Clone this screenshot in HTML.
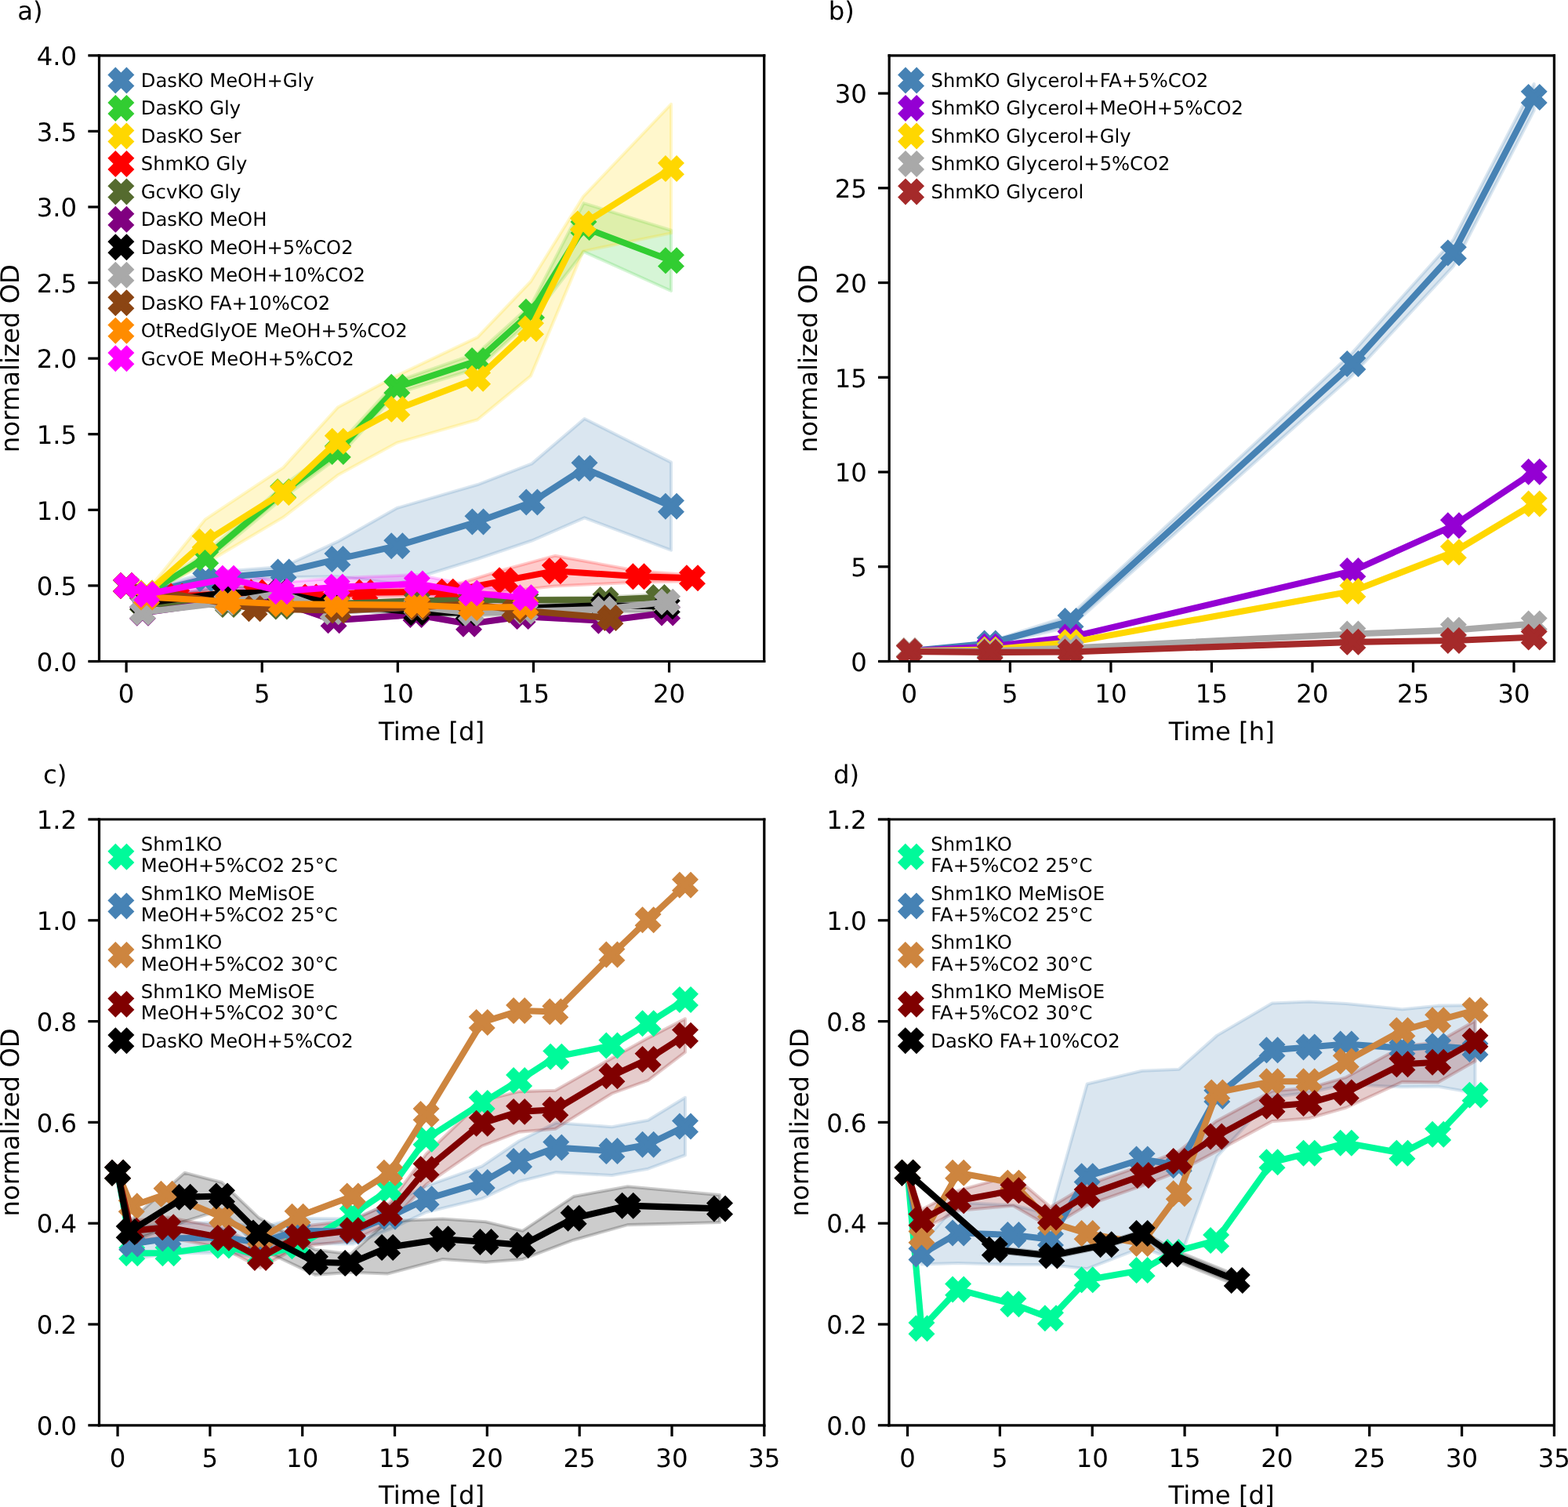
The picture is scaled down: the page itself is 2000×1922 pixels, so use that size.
<!DOCTYPE html>
<html><head><meta charset="utf-8"><title>Figure</title><style>html,body{margin:0;padding:0;background:#fff;}svg{display:block;}text{font-family:"DejaVu Sans","Liberation Sans",sans-serif;text-rendering:geometricPrecision;}</style></head><body>
<svg width="2000px" height="1922px" viewBox="0 0 495.049505 475.742574" version="1.1">
 
 <defs>
  <style type="text/css">*{stroke-linejoin: round; stroke-linecap: butt}</style>
 </defs>
 <g id="figure_1">
  <g id="patch_1">
   <path d="M 0 475.742574 
L 495.049505 475.742574 
L 495.049505 0 
L 0 0 
z
" style="fill: #ffffff"/>
  </g>
  <g id="axes_1">
   <g id="patch_2">
    <path d="M 31.311881 208.787129 
L 241.262376 208.787129 
L 241.262376 17.524752 
L 31.311881 17.524752 
z
" style="fill: #ffffff"/>
   </g>
   <g id="FillBetweenPolyCollection_1">
    <defs>
     <path id="m2e05fa8b4c" d="M 39.881289 -290.863243 
L 39.881289 -290.863243 
L 46.308345 -287.516151 
L 64.90396 -291.102321 
L 89.498161 -293.4931 
L 106.551283 -293.732178 
L 125.318287 -291.43703 
L 150.855122 -299.326603 
L 167.908244 -305.064474 
L 184.532896 -312.284629 
L 211.869307 -302.052092 
L 211.869307 -329.785136 
L 211.869307 -329.785136 
L 184.532896 -343.556027 
L 167.908244 -329.354796 
L 150.855122 -322.756244 
L 125.318287 -315.344827 
L 106.551283 -304.729765 
L 89.498161 -296.840192 
L 64.90396 -294.927568 
L 46.308345 -289.428775 
L 39.881289 -290.863243 
z
" style="stroke: #4682b4; stroke-opacity: 0.2"/>
    </defs>
    <g clip-path="url(#pe336038c36)">
     <use href="#m2e05fa8b4c" x="0" y="475.742574" style="fill: #4682b4; fill-opacity: 0.2; stroke: #4682b4; stroke-opacity: 0.2"/>
    </g>
   </g>
   <g id="FillBetweenPolyCollection_2">
    <defs>
     <path id="mc06abea9f8" d="M 39.881289 -290.863243 
L 39.881289 -290.863243 
L 46.308345 -287.85086 
L 64.90396 -298.27466 
L 89.412467 -318.596287 
L 106.636977 -331.26742 
L 125.318287 -351.589047 
L 150.769428 -359.47862 
L 167.82255 -374.875241 
L 184.275813 -396.296627 
L 211.869307 -383.912389 
L 211.869307 -403.038626 
L 211.869307 -403.038626 
L 184.275813 -411.597618 
L 167.82255 -379.656801 
L 150.769428 -364.260179 
L 125.318287 -355.414295 
L 106.636977 -335.092667 
L 89.412467 -322.421535 
L 64.90396 -301.143595 
L 46.308345 -288.807172 
L 39.881289 -290.863243 
z
" style="stroke: #32cd32; stroke-opacity: 0.2"/>
    </defs>
    <g clip-path="url(#pe336038c36)">
     <use href="#mc06abea9f8" x="0" y="475.742574" style="fill: #32cd32; fill-opacity: 0.2; stroke: #32cd32; stroke-opacity: 0.2"/>
    </g>
   </g>
   <g id="FillBetweenPolyCollection_3">
    <defs>
     <path id="mdfe5f4eef9" d="M 39.881289 -290.863243 
L 39.881289 -290.863243 
L 46.308345 -287.994307 
L 64.732572 -297.748688 
L 89.412467 -312.428075 
L 106.636977 -325.720811 
L 125.318287 -335.953348 
L 150.769428 -343.269134 
L 167.565468 -357.040025 
L 184.104425 -396.440074 
L 211.869307 -402.13013 
L 211.869307 -442.869016 
L 211.869307 -442.869016 
L 184.104425 -413.653688 
L 167.565468 -386.876955 
L 150.769428 -369.280817 
L 125.318287 -357.183472 
L 106.636977 -347.142197 
L 89.412467 -328.11159 
L 64.732572 -311.710842 
L 46.308345 -288.950619 
L 39.881289 -290.863243 
z
" style="stroke: #ffd700; stroke-opacity: 0.2"/>
    </defs>
    <g clip-path="url(#pe336038c36)">
     <use href="#mdfe5f4eef9" x="0" y="475.742574" style="fill: #ffd700; fill-opacity: 0.2; stroke: #ffd700; stroke-opacity: 0.2"/>
    </g>
   </g>
   <g id="FillBetweenPolyCollection_4">
    <defs>
     <path id="m997eaf4f09" d="M 39.881289 -290.863243 
L 39.881289 -290.863243 
L 46.308345 -287.516151 
L 55.734694 -286.559839 
L 81.014447 -287.755229 
L 98.067569 -286.320761 
L 115.206385 -287.277073 
L 141.257385 -287.516151 
L 159.42453 -288.998434 
L 175.192241 -290.719796 
L 201.586017 -291.963001 
L 218.553445 -292.29771 
L 218.553445 -294.210334 
L 218.553445 -294.210334 
L 201.586017 -295.501355 
L 175.192241 -300.282915 
L 159.42453 -295.979511 
L 141.257385 -290.385087 
L 115.206385 -290.146009 
L 98.067569 -288.233385 
L 81.014447 -289.667853 
L 55.734694 -288.472463 
L 46.308345 -288.472463 
L 39.881289 -290.863243 
z
" style="stroke: #ff0000; stroke-opacity: 0.2"/>
    </defs>
    <g clip-path="url(#pe336038c36)">
     <use href="#m997eaf4f09" x="0" y="475.742574" style="fill: #ff0000; fill-opacity: 0.2; stroke: #ff0000; stroke-opacity: 0.2"/>
    </g>
   </g>
   <g id="FillBetweenPolyCollection_5">
    <defs>
     <path id="m07bd4433d9" d="M 39.881289 -290.863243 
L 39.881289 -290.863243 
L 45.022934 -284.647215 
L 72.016569 -284.408137 
L 88.812609 -283.786535 
L 106.379895 -284.647215 
L 131.659648 -285.603527 
L 148.798464 -285.842605 
L 165.93728 -285.842605 
L 191.217034 -285.412265 
L 208.013073 -286.177314 
L 208.013073 -288.089938 
L 208.013073 -288.089938 
L 191.217034 -287.324889 
L 165.93728 -286.798917 
L 148.798464 -286.798917 
L 131.659648 -286.559839 
L 106.379895 -285.603527 
L 88.812609 -284.742847 
L 72.016569 -285.364449 
L 45.022934 -285.603527 
L 39.881289 -290.863243 
z
" style="stroke: #556b2f; stroke-opacity: 0.2"/>
    </defs>
    <g clip-path="url(#pe336038c36)">
     <use href="#m07bd4433d9" x="0" y="475.742574" style="fill: #556b2f; fill-opacity: 0.2; stroke: #556b2f; stroke-opacity: 0.2"/>
    </g>
   </g>
   <g id="FillBetweenPolyCollection_6">
    <defs>
     <path id="mba412e9eae" d="M 39.881289 -290.863243 
L 39.881289 -290.863243 
L 45.022934 -281.77828 
L 72.016569 -285.603527 
L 88.812609 -285.125371 
L 105.351566 -279.435316 
L 131.316872 -281.204493 
L 148.027218 -278.287741 
L 164.994645 -280.678521 
L 190.702869 -279.291869 
L 210.66959 -281.826095 
L 210.66959 -282.782407 
L 210.66959 -282.782407 
L 190.702869 -280.248181 
L 164.994645 -281.634833 
L 148.027218 -279.244053 
L 131.316872 -282.160804 
L 105.351566 -280.391627 
L 88.812609 -286.081683 
L 72.016569 -286.559839 
L 45.022934 -282.734592 
L 39.881289 -290.863243 
z
" style="stroke: #800080; stroke-opacity: 0.2"/>
    </defs>
    <g clip-path="url(#pe336038c36)">
     <use href="#mba412e9eae" x="0" y="475.742574" style="fill: #800080; fill-opacity: 0.2; stroke: #800080; stroke-opacity: 0.2"/>
    </g>
   </g>
   <g id="FillBetweenPolyCollection_7">
    <defs>
     <path id="m1affc12d87" d="M 39.881289 -290.863243 
L 39.881289 -290.863243 
L 45.194322 -284.312506 
L 70.98824 -286.272946 
L 88.21275 -287.372704 
L 105.351566 -283.738719 
L 131.48826 -281.204493 
L 147.941524 -281.443571 
L 164.994645 -281.634833 
L 190.617175 -282.686776 
L 210.583896 -282.399882 
L 210.583896 -286.22513 
L 210.583896 -286.22513 
L 190.617175 -286.512024 
L 164.994645 -285.938236 
L 147.941524 -283.164932 
L 131.48826 -283.595272 
L 105.351566 -286.607655 
L 88.21275 -289.954746 
L 70.98824 -290.863243 
L 45.194322 -286.22513 
L 39.881289 -290.863243 
z
" style="stroke: #000000; stroke-opacity: 0.2"/>
    </defs>
    <g clip-path="url(#pe336038c36)">
     <use href="#m1affc12d87" x="0" y="475.742574" style="fill-opacity: 0.2; stroke: #000000; stroke-opacity: 0.2"/>
    </g>
   </g>
   <g id="FillBetweenPolyCollection_8">
    <defs>
     <path id="mc00c0c0029" d="M 39.881289 -290.863243 
L 39.881289 -290.863243 
L 45.022934 -281.921726 
L 71.588099 -285.125371 
L 88.812609 -287.994307 
L 105.094484 -282.160804 
L 131.573954 -283.690903 
L 148.71277 -281.77828 
L 165.851586 -282.256436 
L 190.702869 -282.97367 
L 210.66959 -285.221002 
L 210.66959 -286.177314 
L 210.66959 -286.177314 
L 190.702869 -283.929981 
L 165.851586 -283.212748 
L 148.71277 -282.734592 
L 131.573954 -284.647215 
L 105.094484 -283.117116 
L 88.812609 -288.950619 
L 71.588099 -286.081683 
L 45.022934 -282.878038 
L 39.881289 -290.863243 
z
" style="stroke: #a9a9a9; stroke-opacity: 0.2"/>
    </defs>
    <g clip-path="url(#pe336038c36)">
     <use href="#mc00c0c0029" x="0" y="475.742574" style="fill: #a9a9a9; fill-opacity: 0.2; stroke: #a9a9a9; stroke-opacity: 0.2"/>
    </g>
   </g>
   <g id="FillBetweenPolyCollection_9">
    <defs>
     <path id="m20544c23c8" d="M 39.881289 -290.863243 
L 39.881289 -290.863243 
L 80.328895 -283.356194 
L 106.722671 -282.782407 
L 131.916731 -283.83435 
L 148.627076 -284.886293 
L 162.509517 -282.686776 
L 192.673833 -280.200365 
L 192.673833 -281.156677 
L 192.673833 -281.156677 
L 162.509517 -283.643088 
L 148.627076 -285.364449 
L 131.916731 -284.312506 
L 106.722671 -283.260563 
L 80.328895 -283.83435 
L 39.881289 -290.863243 
z
" style="stroke: #8b4513; stroke-opacity: 0.2"/>
    </defs>
    <g clip-path="url(#pe336038c36)">
     <use href="#m20544c23c8" x="0" y="475.742574" style="fill: #8b4513; fill-opacity: 0.2; stroke: #8b4513; stroke-opacity: 0.2"/>
    </g>
   </g>
   <g id="FillBetweenPolyCollection_10">
    <defs>
     <path id="mba75126469" d="M 39.881289 -290.863243 
L 39.881289 -290.863243 
L 46.308345 -286.798917 
L 72.016569 -285.364449 
L 88.812609 -284.5994 
L 106.294201 -284.455953 
L 131.659648 -284.216875 
L 148.798464 -283.451825 
L 165.93728 -283.738719 
L 165.93728 -284.695031 
L 165.93728 -284.695031 
L 148.798464 -284.408137 
L 131.659648 -285.173187 
L 106.294201 -285.412265 
L 88.812609 -285.555712 
L 72.016569 -286.320761 
L 46.308345 -287.755229 
L 39.881289 -290.863243 
z
" style="stroke: #ff8c00; stroke-opacity: 0.2"/>
    </defs>
    <g clip-path="url(#pe336038c36)">
     <use href="#mba75126469" x="0" y="475.742574" style="fill: #ff8c00; fill-opacity: 0.2; stroke: #ff8c00; stroke-opacity: 0.2"/>
    </g>
   </g>
   <g id="FillBetweenPolyCollection_11">
    <defs>
     <path id="mbb0b1f4c60" d="M 39.881289 -290.863243 
L 39.881289 -290.863243 
L 46.308345 -287.181442 
L 72.016569 -290.767611 
L 88.812609 -286.177314 
L 106.379895 -287.516151 
L 131.659648 -288.568094 
L 148.798464 -286.129499 
L 165.93728 -285.125371 
L 165.93728 -288.950619 
L 165.93728 -288.950619 
L 148.798464 -290.911058 
L 131.659648 -294.305965 
L 106.379895 -293.254022 
L 88.812609 -291.915186 
L 72.016569 -295.549171 
L 46.308345 -289.094066 
L 39.881289 -290.863243 
z
" style="stroke: #ff00ff; stroke-opacity: 0.2"/>
    </defs>
    <g clip-path="url(#pe336038c36)">
     <use href="#mbb0b1f4c60" x="0" y="475.742574" style="fill: #ff00ff; fill-opacity: 0.2; stroke: #ff00ff; stroke-opacity: 0.2"/>
    </g>
   </g>
   <g id="matplotlib.axis_1">
    <g id="xtick_1">
     <g id="line2d_1">
      <defs>
       <path id="m1504cfccaf" d="M 0 0 
L 0 3.5 
" style="stroke: #000000; stroke-width: 0.8"/>
      </defs>
      <g>
       <use href="#m1504cfccaf" x="39.881289" y="208.787129" style="stroke: #000000; stroke-width: 0.8"/>
      </g>
     </g>
     <g id="text_1">
      <text style="font-size: 8px; font-family: 'DejaVu Sans', 'Liberation Sans', sans-serif; text-anchor: middle" x="39.881289" y="221.865879" transform="rotate(-0 39.881289 221.865879)">0</text>
     </g>
    </g>
    <g id="xtick_2">
     <g id="line2d_2">
      <g>
       <use href="#m1504cfccaf" x="82.728329" y="208.787129" style="stroke: #000000; stroke-width: 0.8"/>
      </g>
     </g>
     <g id="text_2">
      <text style="font-size: 8px; font-family: 'DejaVu Sans', 'Liberation Sans', sans-serif; text-anchor: middle" x="82.728329" y="221.865879" transform="rotate(-0 82.728329 221.865879)">5</text>
     </g>
    </g>
    <g id="xtick_3">
     <g id="line2d_3">
      <g>
       <use href="#m1504cfccaf" x="125.575369" y="208.787129" style="stroke: #000000; stroke-width: 0.8"/>
      </g>
     </g>
     <g id="text_3">
      <text style="font-size: 8px; font-family: 'DejaVu Sans', 'Liberation Sans', sans-serif; text-anchor: middle" x="125.575369" y="221.865879" transform="rotate(-0 125.575369 221.865879)">10</text>
     </g>
    </g>
    <g id="xtick_4">
     <g id="line2d_4">
      <g>
       <use href="#m1504cfccaf" x="168.422409" y="208.787129" style="stroke: #000000; stroke-width: 0.8"/>
      </g>
     </g>
     <g id="text_4">
      <text style="font-size: 8px; font-family: 'DejaVu Sans', 'Liberation Sans', sans-serif; text-anchor: middle" x="168.422409" y="221.865879" transform="rotate(-0 168.422409 221.865879)">15</text>
     </g>
    </g>
    <g id="xtick_5">
     <g id="line2d_5">
      <g>
       <use href="#m1504cfccaf" x="211.269448" y="208.787129" style="stroke: #000000; stroke-width: 0.8"/>
      </g>
     </g>
     <g id="text_5">
      <text style="font-size: 8px; font-family: 'DejaVu Sans', 'Liberation Sans', sans-serif; text-anchor: middle" x="211.269448" y="221.865879" transform="rotate(-0 211.269448 221.865879)">20</text>
     </g>
    </g>
    <g id="text_6">
     <text style="font-size: 8px; font-family: 'DejaVu Sans', 'Liberation Sans', sans-serif; text-anchor: middle" x="136.287129" y="233.608379" transform="rotate(-0 136.287129 233.608379)">Time [d]</text>
    </g>
   </g>
   <g id="matplotlib.axis_2">
    <g id="ytick_1">
     <g id="line2d_6">
      <defs>
       <path id="m5d545ce8f8" d="M 0 0 
L -3.5 0 
" style="stroke: #000000; stroke-width: 0.8"/>
      </defs>
      <g>
       <use href="#m5d545ce8f8" x="31.311881" y="208.787129" style="stroke: #000000; stroke-width: 0.8"/>
      </g>
     </g>
     <g id="text_7">
      <text style="font-size: 8px; font-family: 'DejaVu Sans', 'Liberation Sans', sans-serif; text-anchor: end" x="24.311881" y="211.826504" transform="rotate(-0 24.311881 211.826504)">0.0</text>
     </g>
    </g>
    <g id="ytick_2">
     <g id="line2d_7">
      <g>
       <use href="#m5d545ce8f8" x="31.311881" y="184.879332" style="stroke: #000000; stroke-width: 0.8"/>
      </g>
     </g>
     <g id="text_8">
      <text style="font-size: 8px; font-family: 'DejaVu Sans', 'Liberation Sans', sans-serif; text-anchor: end" x="24.311881" y="187.918707" transform="rotate(-0 24.311881 187.918707)">0.5</text>
     </g>
    </g>
    <g id="ytick_3">
     <g id="line2d_8">
      <g>
       <use href="#m5d545ce8f8" x="31.311881" y="160.971535" style="stroke: #000000; stroke-width: 0.8"/>
      </g>
     </g>
     <g id="text_9">
      <text style="font-size: 8px; font-family: 'DejaVu Sans', 'Liberation Sans', sans-serif; text-anchor: end" x="24.311881" y="164.01091" transform="rotate(-0 24.311881 164.01091)">1.0</text>
     </g>
    </g>
    <g id="ytick_4">
     <g id="line2d_9">
      <g>
       <use href="#m5d545ce8f8" x="31.311881" y="137.063738" style="stroke: #000000; stroke-width: 0.8"/>
      </g>
     </g>
     <g id="text_10">
      <text style="font-size: 8px; font-family: 'DejaVu Sans', 'Liberation Sans', sans-serif; text-anchor: end" x="24.311881" y="140.103113" transform="rotate(-0 24.311881 140.103113)">1.5</text>
     </g>
    </g>
    <g id="ytick_5">
     <g id="line2d_10">
      <g>
       <use href="#m5d545ce8f8" x="31.311881" y="113.155941" style="stroke: #000000; stroke-width: 0.8"/>
      </g>
     </g>
     <g id="text_11">
      <text style="font-size: 8px; font-family: 'DejaVu Sans', 'Liberation Sans', sans-serif; text-anchor: end" x="24.311881" y="116.195316" transform="rotate(-0 24.311881 116.195316)">2.0</text>
     </g>
    </g>
    <g id="ytick_6">
     <g id="line2d_11">
      <g>
       <use href="#m5d545ce8f8" x="31.311881" y="89.248144" style="stroke: #000000; stroke-width: 0.8"/>
      </g>
     </g>
     <g id="text_12">
      <text style="font-size: 8px; font-family: 'DejaVu Sans', 'Liberation Sans', sans-serif; text-anchor: end" x="24.311881" y="92.287519" transform="rotate(-0 24.311881 92.287519)">2.5</text>
     </g>
    </g>
    <g id="ytick_7">
     <g id="line2d_12">
      <g>
       <use href="#m5d545ce8f8" x="31.311881" y="65.340347" style="stroke: #000000; stroke-width: 0.8"/>
      </g>
     </g>
     <g id="text_13">
      <text style="font-size: 8px; font-family: 'DejaVu Sans', 'Liberation Sans', sans-serif; text-anchor: end" x="24.311881" y="68.379722" transform="rotate(-0 24.311881 68.379722)">3.0</text>
     </g>
    </g>
    <g id="ytick_8">
     <g id="line2d_13">
      <g>
       <use href="#m5d545ce8f8" x="31.311881" y="41.43255" style="stroke: #000000; stroke-width: 0.8"/>
      </g>
     </g>
     <g id="text_14">
      <text style="font-size: 8px; font-family: 'DejaVu Sans', 'Liberation Sans', sans-serif; text-anchor: end" x="24.311881" y="44.471925" transform="rotate(-0 24.311881 44.471925)">3.5</text>
     </g>
    </g>
    <g id="ytick_9">
     <g id="line2d_14">
      <g>
       <use href="#m5d545ce8f8" x="31.311881" y="17.524752" style="stroke: #000000; stroke-width: 0.8"/>
      </g>
     </g>
     <g id="text_15">
      <text style="font-size: 8px; font-family: 'DejaVu Sans', 'Liberation Sans', sans-serif; text-anchor: end" x="24.311881" y="20.564127" transform="rotate(-0 24.311881 20.564127)">4.0</text>
     </g>
    </g>
    <g id="text_16">
     <text style="font-size: 8px; font-family: 'DejaVu Sans', 'Liberation Sans', sans-serif; text-anchor: middle" x="5.925631" y="113.155941" transform="rotate(-90 5.925631 113.155941)">normalized OD</text>
    </g>
   </g>
   <g id="line2d_15">
    <path d="M 39.881289 184.879332 
L 46.308345 187.270111 
L 64.90396 182.72763 
L 89.498161 180.575928 
L 106.551283 176.511603 
L 125.318287 172.351646 
L 150.855122 164.701151 
L 167.908244 158.532939 
L 184.532896 147.822246 
L 211.869307 159.82396 
" clip-path="url(#pe336038c36)" style="fill: none; stroke: #4682b4; stroke-width: 2; stroke-linecap: square"/>
    <defs>
     <path id="m28daec182a" d="M -1.75 3.5 
L 0 1.75 
L 1.75 3.5 
L 3.5 1.75 
L 1.75 0 
L 3.5 -1.75 
L 1.75 -3.5 
L 0 -1.75 
L -1.75 -3.5 
L -3.5 -1.75 
L -1.75 0 
L -3.5 1.75 
z
" style="stroke: #4682b4; stroke-linejoin: miter"/>
    </defs>
    <g clip-path="url(#pe336038c36)">
     <use href="#m28daec182a" x="39.881289" y="184.879332" style="fill: #4682b4; stroke: #4682b4; stroke-linejoin: miter"/>
     <use href="#m28daec182a" x="46.308345" y="187.270111" style="fill: #4682b4; stroke: #4682b4; stroke-linejoin: miter"/>
     <use href="#m28daec182a" x="64.90396" y="182.72763" style="fill: #4682b4; stroke: #4682b4; stroke-linejoin: miter"/>
     <use href="#m28daec182a" x="89.498161" y="180.575928" style="fill: #4682b4; stroke: #4682b4; stroke-linejoin: miter"/>
     <use href="#m28daec182a" x="106.551283" y="176.511603" style="fill: #4682b4; stroke: #4682b4; stroke-linejoin: miter"/>
     <use href="#m28daec182a" x="125.318287" y="172.351646" style="fill: #4682b4; stroke: #4682b4; stroke-linejoin: miter"/>
     <use href="#m28daec182a" x="150.855122" y="164.701151" style="fill: #4682b4; stroke: #4682b4; stroke-linejoin: miter"/>
     <use href="#m28daec182a" x="167.908244" y="158.532939" style="fill: #4682b4; stroke: #4682b4; stroke-linejoin: miter"/>
     <use href="#m28daec182a" x="184.532896" y="147.822246" style="fill: #4682b4; stroke: #4682b4; stroke-linejoin: miter"/>
     <use href="#m28daec182a" x="211.869307" y="159.82396" style="fill: #4682b4; stroke: #4682b4; stroke-linejoin: miter"/>
    </g>
   </g>
   <g id="line2d_16">
    <path d="M 39.881289 184.879332 
L 46.308345 187.413558 
L 64.90396 176.033447 
L 89.412467 155.233663 
L 106.636977 142.562531 
L 125.318287 122.240903 
L 150.769428 113.873175 
L 167.82255 98.476553 
L 184.275813 71.795452 
L 211.869307 82.267067 
" clip-path="url(#pe336038c36)" style="fill: none; stroke: #32cd32; stroke-width: 2; stroke-linecap: square"/>
    <defs>
     <path id="m70498df7f8" d="M -1.75 3.5 
L 0 1.75 
L 1.75 3.5 
L 3.5 1.75 
L 1.75 0 
L 3.5 -1.75 
L 1.75 -3.5 
L 0 -1.75 
L -1.75 -3.5 
L -3.5 -1.75 
L -1.75 0 
L -3.5 1.75 
z
" style="stroke: #32cd32; stroke-linejoin: miter"/>
    </defs>
    <g clip-path="url(#pe336038c36)">
     <use href="#m70498df7f8" x="39.881289" y="184.879332" style="fill: #32cd32; stroke: #32cd32; stroke-linejoin: miter"/>
     <use href="#m70498df7f8" x="46.308345" y="187.413558" style="fill: #32cd32; stroke: #32cd32; stroke-linejoin: miter"/>
     <use href="#m70498df7f8" x="64.90396" y="176.033447" style="fill: #32cd32; stroke: #32cd32; stroke-linejoin: miter"/>
     <use href="#m70498df7f8" x="89.412467" y="155.233663" style="fill: #32cd32; stroke: #32cd32; stroke-linejoin: miter"/>
     <use href="#m70498df7f8" x="106.636977" y="142.562531" style="fill: #32cd32; stroke: #32cd32; stroke-linejoin: miter"/>
     <use href="#m70498df7f8" x="125.318287" y="122.240903" style="fill: #32cd32; stroke: #32cd32; stroke-linejoin: miter"/>
     <use href="#m70498df7f8" x="150.769428" y="113.873175" style="fill: #32cd32; stroke: #32cd32; stroke-linejoin: miter"/>
     <use href="#m70498df7f8" x="167.82255" y="98.476553" style="fill: #32cd32; stroke: #32cd32; stroke-linejoin: miter"/>
     <use href="#m70498df7f8" x="184.275813" y="71.795452" style="fill: #32cd32; stroke: #32cd32; stroke-linejoin: miter"/>
     <use href="#m70498df7f8" x="211.869307" y="82.267067" style="fill: #32cd32; stroke: #32cd32; stroke-linejoin: miter"/>
    </g>
   </g>
   <g id="line2d_17">
    <path d="M 39.881289 184.879332 
L 46.308345 187.270111 
L 64.732572 171.012809 
L 89.412467 155.472741 
L 106.636977 139.311071 
L 125.318287 129.174165 
L 150.769428 119.467599 
L 167.565468 103.784084 
L 184.104425 70.695693 
L 211.869307 53.243001 
" clip-path="url(#pe336038c36)" style="fill: none; stroke: #ffd700; stroke-width: 2; stroke-linecap: square"/>
    <defs>
     <path id="mb788bae803" d="M -1.75 3.5 
L 0 1.75 
L 1.75 3.5 
L 3.5 1.75 
L 1.75 0 
L 3.5 -1.75 
L 1.75 -3.5 
L 0 -1.75 
L -1.75 -3.5 
L -3.5 -1.75 
L -1.75 0 
L -3.5 1.75 
z
" style="stroke: #ffd700; stroke-linejoin: miter"/>
    </defs>
    <g clip-path="url(#pe336038c36)">
     <use href="#mb788bae803" x="39.881289" y="184.879332" style="fill: #ffd700; stroke: #ffd700; stroke-linejoin: miter"/>
     <use href="#mb788bae803" x="46.308345" y="187.270111" style="fill: #ffd700; stroke: #ffd700; stroke-linejoin: miter"/>
     <use href="#mb788bae803" x="64.732572" y="171.012809" style="fill: #ffd700; stroke: #ffd700; stroke-linejoin: miter"/>
     <use href="#mb788bae803" x="89.412467" y="155.472741" style="fill: #ffd700; stroke: #ffd700; stroke-linejoin: miter"/>
     <use href="#mb788bae803" x="106.636977" y="139.311071" style="fill: #ffd700; stroke: #ffd700; stroke-linejoin: miter"/>
     <use href="#mb788bae803" x="125.318287" y="129.174165" style="fill: #ffd700; stroke: #ffd700; stroke-linejoin: miter"/>
     <use href="#mb788bae803" x="150.769428" y="119.467599" style="fill: #ffd700; stroke: #ffd700; stroke-linejoin: miter"/>
     <use href="#mb788bae803" x="167.565468" y="103.784084" style="fill: #ffd700; stroke: #ffd700; stroke-linejoin: miter"/>
     <use href="#mb788bae803" x="184.104425" y="70.695693" style="fill: #ffd700; stroke: #ffd700; stroke-linejoin: miter"/>
     <use href="#mb788bae803" x="211.869307" y="53.243001" style="fill: #ffd700; stroke: #ffd700; stroke-linejoin: miter"/>
    </g>
   </g>
   <g id="line2d_18">
    <path d="M 39.881289 184.879332 
L 46.308345 187.748267 
L 55.734694 188.226423 
L 81.014447 187.031033 
L 98.067569 188.465501 
L 115.206385 187.031033 
L 141.257385 186.791955 
L 159.42453 183.253601 
L 175.192241 180.241219 
L 201.586017 182.010396 
L 218.553445 182.488552 
" clip-path="url(#pe336038c36)" style="fill: none; stroke: #ff0000; stroke-width: 2; stroke-linecap: square"/>
    <defs>
     <path id="meba9ed5e86" d="M -1.75 3.5 
L 0 1.75 
L 1.75 3.5 
L 3.5 1.75 
L 1.75 0 
L 3.5 -1.75 
L 1.75 -3.5 
L 0 -1.75 
L -1.75 -3.5 
L -3.5 -1.75 
L -1.75 0 
L -3.5 1.75 
z
" style="stroke: #ff0000; stroke-linejoin: miter"/>
    </defs>
    <g clip-path="url(#pe336038c36)">
     <use href="#meba9ed5e86" x="39.881289" y="184.879332" style="fill: #ff0000; stroke: #ff0000; stroke-linejoin: miter"/>
     <use href="#meba9ed5e86" x="46.308345" y="187.748267" style="fill: #ff0000; stroke: #ff0000; stroke-linejoin: miter"/>
     <use href="#meba9ed5e86" x="55.734694" y="188.226423" style="fill: #ff0000; stroke: #ff0000; stroke-linejoin: miter"/>
     <use href="#meba9ed5e86" x="81.014447" y="187.031033" style="fill: #ff0000; stroke: #ff0000; stroke-linejoin: miter"/>
     <use href="#meba9ed5e86" x="98.067569" y="188.465501" style="fill: #ff0000; stroke: #ff0000; stroke-linejoin: miter"/>
     <use href="#meba9ed5e86" x="115.206385" y="187.031033" style="fill: #ff0000; stroke: #ff0000; stroke-linejoin: miter"/>
     <use href="#meba9ed5e86" x="141.257385" y="186.791955" style="fill: #ff0000; stroke: #ff0000; stroke-linejoin: miter"/>
     <use href="#meba9ed5e86" x="159.42453" y="183.253601" style="fill: #ff0000; stroke: #ff0000; stroke-linejoin: miter"/>
     <use href="#meba9ed5e86" x="175.192241" y="180.241219" style="fill: #ff0000; stroke: #ff0000; stroke-linejoin: miter"/>
     <use href="#meba9ed5e86" x="201.586017" y="182.010396" style="fill: #ff0000; stroke: #ff0000; stroke-linejoin: miter"/>
     <use href="#meba9ed5e86" x="218.553445" y="182.488552" style="fill: #ff0000; stroke: #ff0000; stroke-linejoin: miter"/>
    </g>
   </g>
   <g id="line2d_19">
    <path d="M 39.881289 184.879332 
L 45.022934 190.617203 
L 72.016569 190.856281 
L 88.812609 191.477884 
L 106.379895 190.617203 
L 131.659648 189.660891 
L 148.798464 189.421813 
L 165.93728 189.421813 
L 191.217034 189.373998 
L 208.013073 188.608948 
" clip-path="url(#pe336038c36)" style="fill: none; stroke: #556b2f; stroke-width: 2; stroke-linecap: square"/>
    <defs>
     <path id="m29f6588461" d="M -1.75 3.5 
L 0 1.75 
L 1.75 3.5 
L 3.5 1.75 
L 1.75 0 
L 3.5 -1.75 
L 1.75 -3.5 
L 0 -1.75 
L -1.75 -3.5 
L -3.5 -1.75 
L -1.75 0 
L -3.5 1.75 
z
" style="stroke: #556b2f; stroke-linejoin: miter"/>
    </defs>
    <g clip-path="url(#pe336038c36)">
     <use href="#m29f6588461" x="39.881289" y="184.879332" style="fill: #556b2f; stroke: #556b2f; stroke-linejoin: miter"/>
     <use href="#m29f6588461" x="45.022934" y="190.617203" style="fill: #556b2f; stroke: #556b2f; stroke-linejoin: miter"/>
     <use href="#m29f6588461" x="72.016569" y="190.856281" style="fill: #556b2f; stroke: #556b2f; stroke-linejoin: miter"/>
     <use href="#m29f6588461" x="88.812609" y="191.477884" style="fill: #556b2f; stroke: #556b2f; stroke-linejoin: miter"/>
     <use href="#m29f6588461" x="106.379895" y="190.617203" style="fill: #556b2f; stroke: #556b2f; stroke-linejoin: miter"/>
     <use href="#m29f6588461" x="131.659648" y="189.660891" style="fill: #556b2f; stroke: #556b2f; stroke-linejoin: miter"/>
     <use href="#m29f6588461" x="148.798464" y="189.421813" style="fill: #556b2f; stroke: #556b2f; stroke-linejoin: miter"/>
     <use href="#m29f6588461" x="165.93728" y="189.421813" style="fill: #556b2f; stroke: #556b2f; stroke-linejoin: miter"/>
     <use href="#m29f6588461" x="191.217034" y="189.373998" style="fill: #556b2f; stroke: #556b2f; stroke-linejoin: miter"/>
     <use href="#m29f6588461" x="208.013073" y="188.608948" style="fill: #556b2f; stroke: #556b2f; stroke-linejoin: miter"/>
    </g>
   </g>
   <g id="line2d_20">
    <path d="M 39.881289 184.879332 
L 45.022934 193.486139 
L 72.016569 189.660891 
L 88.812609 190.139047 
L 105.351566 195.829103 
L 131.316872 194.059926 
L 148.027218 196.976677 
L 164.994645 194.585897 
L 190.702869 195.97255 
L 210.66959 193.438323 
" clip-path="url(#pe336038c36)" style="fill: none; stroke: #800080; stroke-width: 2; stroke-linecap: square"/>
    <defs>
     <path id="mc841015535" d="M -1.75 3.5 
L 0 1.75 
L 1.75 3.5 
L 3.5 1.75 
L 1.75 0 
L 3.5 -1.75 
L 1.75 -3.5 
L 0 -1.75 
L -1.75 -3.5 
L -3.5 -1.75 
L -1.75 0 
L -3.5 1.75 
z
" style="stroke: #800080; stroke-linejoin: miter"/>
    </defs>
    <g clip-path="url(#pe336038c36)">
     <use href="#mc841015535" x="39.881289" y="184.879332" style="fill: #800080; stroke: #800080; stroke-linejoin: miter"/>
     <use href="#mc841015535" x="45.022934" y="193.486139" style="fill: #800080; stroke: #800080; stroke-linejoin: miter"/>
     <use href="#mc841015535" x="72.016569" y="189.660891" style="fill: #800080; stroke: #800080; stroke-linejoin: miter"/>
     <use href="#mc841015535" x="88.812609" y="190.139047" style="fill: #800080; stroke: #800080; stroke-linejoin: miter"/>
     <use href="#mc841015535" x="105.351566" y="195.829103" style="fill: #800080; stroke: #800080; stroke-linejoin: miter"/>
     <use href="#mc841015535" x="131.316872" y="194.059926" style="fill: #800080; stroke: #800080; stroke-linejoin: miter"/>
     <use href="#mc841015535" x="148.027218" y="196.976677" style="fill: #800080; stroke: #800080; stroke-linejoin: miter"/>
     <use href="#mc841015535" x="164.994645" y="194.585897" style="fill: #800080; stroke: #800080; stroke-linejoin: miter"/>
     <use href="#mc841015535" x="190.702869" y="195.97255" style="fill: #800080; stroke: #800080; stroke-linejoin: miter"/>
     <use href="#mc841015535" x="210.66959" y="193.438323" style="fill: #800080; stroke: #800080; stroke-linejoin: miter"/>
    </g>
   </g>
   <g id="line2d_21">
    <path d="M 39.881289 184.879332 
L 45.194322 190.473756 
L 70.98824 187.17448 
L 88.21275 187.078849 
L 105.351566 190.569387 
L 131.48826 193.342692 
L 147.941524 193.438323 
L 164.994645 191.95604 
L 190.617175 191.143175 
L 210.583896 191.430068 
" clip-path="url(#pe336038c36)" style="fill: none; stroke: #000000; stroke-width: 2; stroke-linecap: square"/>
    <defs>
     <path id="m90956b48b6" d="M -1.75 3.5 
L 0 1.75 
L 1.75 3.5 
L 3.5 1.75 
L 1.75 0 
L 3.5 -1.75 
L 1.75 -3.5 
L 0 -1.75 
L -1.75 -3.5 
L -3.5 -1.75 
L -1.75 0 
L -3.5 1.75 
z
" style="stroke: #000000; stroke-linejoin: miter"/>
    </defs>
    <g clip-path="url(#pe336038c36)">
     <use href="#m90956b48b6" x="39.881289" y="184.879332" style="stroke: #000000; stroke-linejoin: miter"/>
     <use href="#m90956b48b6" x="45.194322" y="190.473756" style="stroke: #000000; stroke-linejoin: miter"/>
     <use href="#m90956b48b6" x="70.98824" y="187.17448" style="stroke: #000000; stroke-linejoin: miter"/>
     <use href="#m90956b48b6" x="88.21275" y="187.078849" style="stroke: #000000; stroke-linejoin: miter"/>
     <use href="#m90956b48b6" x="105.351566" y="190.569387" style="stroke: #000000; stroke-linejoin: miter"/>
     <use href="#m90956b48b6" x="131.48826" y="193.342692" style="stroke: #000000; stroke-linejoin: miter"/>
     <use href="#m90956b48b6" x="147.941524" y="193.438323" style="stroke: #000000; stroke-linejoin: miter"/>
     <use href="#m90956b48b6" x="164.994645" y="191.95604" style="stroke: #000000; stroke-linejoin: miter"/>
     <use href="#m90956b48b6" x="190.617175" y="191.143175" style="stroke: #000000; stroke-linejoin: miter"/>
     <use href="#m90956b48b6" x="210.583896" y="191.430068" style="stroke: #000000; stroke-linejoin: miter"/>
    </g>
   </g>
   <g id="line2d_22">
    <path d="M 39.881289 184.879332 
L 45.022934 193.342692 
L 71.588099 190.139047 
L 88.812609 187.270111 
L 105.094484 193.103614 
L 131.573954 191.573515 
L 148.71277 193.486139 
L 165.851586 193.007983 
L 190.702869 192.290749 
L 210.66959 190.043416 
" clip-path="url(#pe336038c36)" style="fill: none; stroke: #a9a9a9; stroke-width: 2; stroke-linecap: square"/>
    <defs>
     <path id="mc8816006d7" d="M -1.75 3.5 
L 0 1.75 
L 1.75 3.5 
L 3.5 1.75 
L 1.75 0 
L 3.5 -1.75 
L 1.75 -3.5 
L 0 -1.75 
L -1.75 -3.5 
L -3.5 -1.75 
L -1.75 0 
L -3.5 1.75 
z
" style="stroke: #a9a9a9; stroke-linejoin: miter"/>
    </defs>
    <g clip-path="url(#pe336038c36)">
     <use href="#mc8816006d7" x="39.881289" y="184.879332" style="fill: #a9a9a9; stroke: #a9a9a9; stroke-linejoin: miter"/>
     <use href="#mc8816006d7" x="45.022934" y="193.342692" style="fill: #a9a9a9; stroke: #a9a9a9; stroke-linejoin: miter"/>
     <use href="#mc8816006d7" x="71.588099" y="190.139047" style="fill: #a9a9a9; stroke: #a9a9a9; stroke-linejoin: miter"/>
     <use href="#mc8816006d7" x="88.812609" y="187.270111" style="fill: #a9a9a9; stroke: #a9a9a9; stroke-linejoin: miter"/>
     <use href="#mc8816006d7" x="105.094484" y="193.103614" style="fill: #a9a9a9; stroke: #a9a9a9; stroke-linejoin: miter"/>
     <use href="#mc8816006d7" x="131.573954" y="191.573515" style="fill: #a9a9a9; stroke: #a9a9a9; stroke-linejoin: miter"/>
     <use href="#mc8816006d7" x="148.71277" y="193.486139" style="fill: #a9a9a9; stroke: #a9a9a9; stroke-linejoin: miter"/>
     <use href="#mc8816006d7" x="165.851586" y="193.007983" style="fill: #a9a9a9; stroke: #a9a9a9; stroke-linejoin: miter"/>
     <use href="#mc8816006d7" x="190.702869" y="192.290749" style="fill: #a9a9a9; stroke: #a9a9a9; stroke-linejoin: miter"/>
     <use href="#mc8816006d7" x="210.66959" y="190.043416" style="fill: #a9a9a9; stroke: #a9a9a9; stroke-linejoin: miter"/>
    </g>
   </g>
   <g id="line2d_23">
    <path d="M 39.881289 184.879332 
L 80.328895 192.147302 
L 106.722671 192.721089 
L 131.916731 191.669146 
L 148.627076 190.617203 
L 162.509517 192.577642 
L 192.673833 195.064053 
" clip-path="url(#pe336038c36)" style="fill: none; stroke: #8b4513; stroke-width: 2; stroke-linecap: square"/>
    <defs>
     <path id="m30cf87b417" d="M -1.75 3.5 
L 0 1.75 
L 1.75 3.5 
L 3.5 1.75 
L 1.75 0 
L 3.5 -1.75 
L 1.75 -3.5 
L 0 -1.75 
L -1.75 -3.5 
L -3.5 -1.75 
L -1.75 0 
L -3.5 1.75 
z
" style="stroke: #8b4513; stroke-linejoin: miter"/>
    </defs>
    <g clip-path="url(#pe336038c36)">
     <use href="#m30cf87b417" x="39.881289" y="184.879332" style="fill: #8b4513; stroke: #8b4513; stroke-linejoin: miter"/>
     <use href="#m30cf87b417" x="80.328895" y="192.147302" style="fill: #8b4513; stroke: #8b4513; stroke-linejoin: miter"/>
     <use href="#m30cf87b417" x="106.722671" y="192.721089" style="fill: #8b4513; stroke: #8b4513; stroke-linejoin: miter"/>
     <use href="#m30cf87b417" x="131.916731" y="191.669146" style="fill: #8b4513; stroke: #8b4513; stroke-linejoin: miter"/>
     <use href="#m30cf87b417" x="148.627076" y="190.617203" style="fill: #8b4513; stroke: #8b4513; stroke-linejoin: miter"/>
     <use href="#m30cf87b417" x="162.509517" y="192.577642" style="fill: #8b4513; stroke: #8b4513; stroke-linejoin: miter"/>
     <use href="#m30cf87b417" x="192.673833" y="195.064053" style="fill: #8b4513; stroke: #8b4513; stroke-linejoin: miter"/>
    </g>
   </g>
   <g id="line2d_24">
    <path d="M 39.881289 184.879332 
L 46.308345 188.465501 
L 72.016569 189.899969 
L 88.812609 190.665019 
L 106.294201 190.808465 
L 131.659648 191.047543 
L 148.798464 191.812593 
L 165.93728 191.525699 
" clip-path="url(#pe336038c36)" style="fill: none; stroke: #ff8c00; stroke-width: 2; stroke-linecap: square"/>
    <defs>
     <path id="m115a9a7fa9" d="M -1.75 3.5 
L 0 1.75 
L 1.75 3.5 
L 3.5 1.75 
L 1.75 0 
L 3.5 -1.75 
L 1.75 -3.5 
L 0 -1.75 
L -1.75 -3.5 
L -3.5 -1.75 
L -1.75 0 
L -3.5 1.75 
z
" style="stroke: #ff8c00; stroke-linejoin: miter"/>
    </defs>
    <g clip-path="url(#pe336038c36)">
     <use href="#m115a9a7fa9" x="39.881289" y="184.879332" style="fill: #ff8c00; stroke: #ff8c00; stroke-linejoin: miter"/>
     <use href="#m115a9a7fa9" x="46.308345" y="188.465501" style="fill: #ff8c00; stroke: #ff8c00; stroke-linejoin: miter"/>
     <use href="#m115a9a7fa9" x="72.016569" y="189.899969" style="fill: #ff8c00; stroke: #ff8c00; stroke-linejoin: miter"/>
     <use href="#m115a9a7fa9" x="88.812609" y="190.665019" style="fill: #ff8c00; stroke: #ff8c00; stroke-linejoin: miter"/>
     <use href="#m115a9a7fa9" x="106.294201" y="190.808465" style="fill: #ff8c00; stroke: #ff8c00; stroke-linejoin: miter"/>
     <use href="#m115a9a7fa9" x="131.659648" y="191.047543" style="fill: #ff8c00; stroke: #ff8c00; stroke-linejoin: miter"/>
     <use href="#m115a9a7fa9" x="148.798464" y="191.812593" style="fill: #ff8c00; stroke: #ff8c00; stroke-linejoin: miter"/>
     <use href="#m115a9a7fa9" x="165.93728" y="191.525699" style="fill: #ff8c00; stroke: #ff8c00; stroke-linejoin: miter"/>
    </g>
   </g>
   <g id="line2d_25">
    <path d="M 39.881289 184.879332 
L 46.308345 187.604821 
L 72.016569 182.584183 
L 88.812609 186.696324 
L 106.379895 185.357488 
L 131.659648 184.305545 
L 148.798464 187.222296 
L 165.93728 188.704579 
" clip-path="url(#pe336038c36)" style="fill: none; stroke: #ff00ff; stroke-width: 2; stroke-linecap: square"/>
    <defs>
     <path id="mbb85791892" d="M -1.75 3.5 
L 0 1.75 
L 1.75 3.5 
L 3.5 1.75 
L 1.75 0 
L 3.5 -1.75 
L 1.75 -3.5 
L 0 -1.75 
L -1.75 -3.5 
L -3.5 -1.75 
L -1.75 0 
L -3.5 1.75 
z
" style="stroke: #ff00ff; stroke-linejoin: miter"/>
    </defs>
    <g clip-path="url(#pe336038c36)">
     <use href="#mbb85791892" x="39.881289" y="184.879332" style="fill: #ff00ff; stroke: #ff00ff; stroke-linejoin: miter"/>
     <use href="#mbb85791892" x="46.308345" y="187.604821" style="fill: #ff00ff; stroke: #ff00ff; stroke-linejoin: miter"/>
     <use href="#mbb85791892" x="72.016569" y="182.584183" style="fill: #ff00ff; stroke: #ff00ff; stroke-linejoin: miter"/>
     <use href="#mbb85791892" x="88.812609" y="186.696324" style="fill: #ff00ff; stroke: #ff00ff; stroke-linejoin: miter"/>
     <use href="#mbb85791892" x="106.379895" y="185.357488" style="fill: #ff00ff; stroke: #ff00ff; stroke-linejoin: miter"/>
     <use href="#mbb85791892" x="131.659648" y="184.305545" style="fill: #ff00ff; stroke: #ff00ff; stroke-linejoin: miter"/>
     <use href="#mbb85791892" x="148.798464" y="187.222296" style="fill: #ff00ff; stroke: #ff00ff; stroke-linejoin: miter"/>
     <use href="#mbb85791892" x="165.93728" y="188.704579" style="fill: #ff00ff; stroke: #ff00ff; stroke-linejoin: miter"/>
    </g>
   </g>
   <g id="patch_3">
    <path d="M 31.311881 208.787129 
L 31.311881 17.524752 
" style="fill: none; stroke: #000000; stroke-width: 0.8; stroke-linejoin: miter; stroke-linecap: square"/>
   </g>
   <g id="patch_4">
    <path d="M 241.262376 208.787129 
L 241.262376 17.524752 
" style="fill: none; stroke: #000000; stroke-width: 0.8; stroke-linejoin: miter; stroke-linecap: square"/>
   </g>
   <g id="patch_5">
    <path d="M 31.311881 208.787129 
L 241.262376 208.787129 
" style="fill: none; stroke: #000000; stroke-width: 0.8; stroke-linejoin: miter; stroke-linecap: square"/>
   </g>
   <g id="patch_6">
    <path d="M 31.311881 17.524752 
L 241.262376 17.524752 
" style="fill: none; stroke: #000000; stroke-width: 0.8; stroke-linejoin: miter; stroke-linecap: square"/>
   </g>
   <g id="legend_1">
    <g id="line2d_26">
     <g>
      <use href="#m28daec182a" x="38.211881" y="25.383815" style="fill: #4682b4; stroke: #4682b4; stroke-linejoin: miter"/>
     </g>
    </g>
    <g id="text_17">
     <text style="font-size: 6px; font-family: 'DejaVu Sans', 'Liberation Sans', sans-serif; text-anchor: start" x="44.511881" y="27.483815" transform="rotate(-0 44.511881 27.483815)">DasKO MeOH+Gly</text>
    </g>
    <g id="line2d_27">
     <g>
      <use href="#m70498df7f8" x="38.211881" y="34.16069" style="fill: #32cd32; stroke: #32cd32; stroke-linejoin: miter"/>
     </g>
    </g>
    <g id="text_18">
     <text style="font-size: 6px; font-family: 'DejaVu Sans', 'Liberation Sans', sans-serif; text-anchor: start" x="44.511881" y="36.26069" transform="rotate(-0 44.511881 36.26069)">DasKO Gly</text>
    </g>
    <g id="line2d_28">
     <g>
      <use href="#mb788bae803" x="38.211881" y="42.937565" style="fill: #ffd700; stroke: #ffd700; stroke-linejoin: miter"/>
     </g>
    </g>
    <g id="text_19">
     <text style="font-size: 6px; font-family: 'DejaVu Sans', 'Liberation Sans', sans-serif; text-anchor: start" x="44.511881" y="45.037565" transform="rotate(-0 44.511881 45.037565)">DasKO Ser</text>
    </g>
    <g id="line2d_29">
     <g>
      <use href="#meba9ed5e86" x="38.211881" y="51.71444" style="fill: #ff0000; stroke: #ff0000; stroke-linejoin: miter"/>
     </g>
    </g>
    <g id="text_20">
     <text style="font-size: 6px; font-family: 'DejaVu Sans', 'Liberation Sans', sans-serif; text-anchor: start" x="44.511881" y="53.81444" transform="rotate(-0 44.511881 53.81444)">ShmKO Gly</text>
    </g>
    <g id="line2d_30">
     <g>
      <use href="#m29f6588461" x="38.211881" y="60.491315" style="fill: #556b2f; stroke: #556b2f; stroke-linejoin: miter"/>
     </g>
    </g>
    <g id="text_21">
     <text style="font-size: 6px; font-family: 'DejaVu Sans', 'Liberation Sans', sans-serif; text-anchor: start" x="44.511881" y="62.591315" transform="rotate(-0 44.511881 62.591315)">GcvKO Gly</text>
    </g>
    <g id="line2d_31">
     <g>
      <use href="#mc841015535" x="38.211881" y="69.26819" style="fill: #800080; stroke: #800080; stroke-linejoin: miter"/>
     </g>
    </g>
    <g id="text_22">
     <text style="font-size: 6px; font-family: 'DejaVu Sans', 'Liberation Sans', sans-serif; text-anchor: start" x="44.511881" y="71.36819" transform="rotate(-0 44.511881 71.36819)">DasKO MeOH</text>
    </g>
    <g id="line2d_32">
     <g>
      <use href="#m90956b48b6" x="38.211881" y="78.045065" style="stroke: #000000; stroke-linejoin: miter"/>
     </g>
    </g>
    <g id="text_23">
     <text style="font-size: 6px; font-family: 'DejaVu Sans', 'Liberation Sans', sans-serif; text-anchor: start" x="44.511881" y="80.145065" transform="rotate(-0 44.511881 80.145065)">DasKO MeOH+5%CO2</text>
    </g>
    <g id="line2d_33">
     <g>
      <use href="#mc8816006d7" x="38.211881" y="86.82194" style="fill: #a9a9a9; stroke: #a9a9a9; stroke-linejoin: miter"/>
     </g>
    </g>
    <g id="text_24">
     <text style="font-size: 6px; font-family: 'DejaVu Sans', 'Liberation Sans', sans-serif; text-anchor: start" x="44.511881" y="88.92194" transform="rotate(-0 44.511881 88.92194)">DasKO MeOH+10%CO2</text>
    </g>
    <g id="line2d_34">
     <g>
      <use href="#m30cf87b417" x="38.211881" y="95.598815" style="fill: #8b4513; stroke: #8b4513; stroke-linejoin: miter"/>
     </g>
    </g>
    <g id="text_25">
     <text style="font-size: 6px; font-family: 'DejaVu Sans', 'Liberation Sans', sans-serif; text-anchor: start" x="44.511881" y="97.698815" transform="rotate(-0 44.511881 97.698815)">DasKO FA+10%CO2</text>
    </g>
    <g id="line2d_35">
     <g>
      <use href="#m115a9a7fa9" x="38.211881" y="104.37569" style="fill: #ff8c00; stroke: #ff8c00; stroke-linejoin: miter"/>
     </g>
    </g>
    <g id="text_26">
     <text style="font-size: 6px; font-family: 'DejaVu Sans', 'Liberation Sans', sans-serif; text-anchor: start" x="44.511881" y="106.47569" transform="rotate(-0 44.511881 106.47569)">OtRedGlyOE MeOH+5%CO2</text>
    </g>
    <g id="line2d_36">
     <g>
      <use href="#mbb85791892" x="38.211881" y="113.152565" style="fill: #ff00ff; stroke: #ff00ff; stroke-linejoin: miter"/>
     </g>
    </g>
    <g id="text_27">
     <text style="font-size: 6px; font-family: 'DejaVu Sans', 'Liberation Sans', sans-serif; text-anchor: start" x="44.511881" y="115.252565" transform="rotate(-0 44.511881 115.252565)">GcvOE MeOH+5%CO2</text>
    </g>
   </g>
  </g>
  <g id="axes_2">
   <g id="patch_7">
    <path d="M 280.742574 208.787129 
L 490.693069 208.787129 
L 490.693069 17.524752 
L 280.742574 17.524752 
z
" style="fill: #ffffff"/>
   </g>
   <g id="FillBetweenPolyCollection_12">
    <defs>
     <path id="mc14e04e428" d="M 287.10471 -270.362307 
L 287.10471 -270.123229 
L 312.553255 -272.035852 
L 338.0018 -277.893263 
L 427.071707 -357.326918 
L 458.882388 -391.754146 
L 484.330933 -440.884669 
L 484.330933 -449.252398 
L 484.330933 -449.252398 
L 458.882388 -400.121875 
L 427.071707 -364.499257 
L 338.0018 -281.479432 
L 312.553255 -273.231242 
L 287.10471 -270.362307 
z
" style="stroke: #4682b4; stroke-opacity: 0.2"/>
    </defs>
    <g clip-path="url(#p91ebfa5d52)">
     <use href="#mc14e04e428" x="0" y="475.742574" style="fill: #4682b4; fill-opacity: 0.2; stroke: #4682b4; stroke-opacity: 0.2"/>
    </g>
   </g>
   <g id="FillBetweenPolyCollection_13">
    <defs>
     <path id="m85daef6af3" d="M 287.10471 -270.302537 
L 287.10471 -270.182998 
L 312.553255 -271.497927 
L 338.0018 -274.426632 
L 427.071707 -295.226416 
L 458.882388 -309.511324 
L 484.330933 -326.48586 
L 484.330933 -327.083555 
L 484.330933 -327.083555 
L 458.882388 -310.109019 
L 427.071707 -295.82411 
L 338.0018 -274.785249 
L 312.553255 -271.737005 
L 287.10471 -270.302537 
z
" style="stroke: #9400d3; stroke-opacity: 0.2"/>
    </defs>
    <g clip-path="url(#p91ebfa5d52)">
     <use href="#m85daef6af3" x="0" y="475.742574" style="fill: #9400d3; fill-opacity: 0.2; stroke: #9400d3; stroke-opacity: 0.2"/>
    </g>
   </g>
   <g id="FillBetweenPolyCollection_14">
    <defs>
     <path id="mb0f96714fa" d="M 287.10471 -270.302537 
L 287.10471 -270.182998 
L 312.553255 -270.541615 
L 338.0018 -272.753086 
L 427.071707 -288.651771 
L 458.882388 -300.725209 
L 484.330933 -316.085968 
L 484.330933 -317.281358 
L 484.330933 -317.281358 
L 458.882388 -302.159677 
L 427.071707 -289.608083 
L 338.0018 -273.111703 
L 312.553255 -270.780693 
L 287.10471 -270.302537 
z
" style="stroke: #ffd700; stroke-opacity: 0.2"/>
    </defs>
    <g clip-path="url(#p91ebfa5d52)">
     <use href="#mb0f96714fa" x="0" y="475.742574" style="fill: #ffd700; fill-opacity: 0.2; stroke: #ffd700; stroke-opacity: 0.2"/>
    </g>
   </g>
   <g id="FillBetweenPolyCollection_15">
    <defs>
     <path id="m910dcbf4da" d="M 287.10471 -270.302537 
L 287.10471 -270.182998 
L 312.553255 -270.182998 
L 338.0018 -271.079541 
L 427.071707 -275.502483 
L 458.882388 -276.697873 
L 484.330933 -278.730036 
L 484.330933 -278.969114 
L 484.330933 -278.969114 
L 458.882388 -276.936951 
L 427.071707 -275.741561 
L 338.0018 -271.19908 
L 312.553255 -270.302537 
L 287.10471 -270.302537 
z
" style="stroke: #a9a9a9; stroke-opacity: 0.2"/>
    </defs>
    <g clip-path="url(#p91ebfa5d52)">
     <use href="#m910dcbf4da" x="0" y="475.742574" style="fill: #a9a9a9; fill-opacity: 0.2; stroke: #a9a9a9; stroke-opacity: 0.2"/>
    </g>
   </g>
   <g id="FillBetweenPolyCollection_16">
    <defs>
     <path id="me152f29f09" d="M 287.10471 -270.123229 
L 287.10471 -270.00369 
L 312.553255 -269.764612 
L 338.0018 -269.884151 
L 427.071707 -272.932395 
L 458.882388 -273.410551 
L 484.330933 -274.486402 
L 484.330933 -274.72548 
L 484.330933 -274.72548 
L 458.882388 -273.649629 
L 427.071707 -273.171473 
L 338.0018 -270.00369 
L 312.553255 -269.884151 
L 287.10471 -270.123229 
z
" style="stroke: #a52a2a; stroke-opacity: 0.2"/>
    </defs>
    <g clip-path="url(#p91ebfa5d52)">
     <use href="#me152f29f09" x="0" y="475.742574" style="fill: #a52a2a; fill-opacity: 0.2; stroke: #a52a2a; stroke-opacity: 0.2"/>
    </g>
   </g>
   <g id="matplotlib.axis_3">
    <g id="xtick_6">
     <g id="line2d_37">
      <g>
       <use href="#m1504cfccaf" x="287.10471" y="208.787129" style="stroke: #000000; stroke-width: 0.8"/>
      </g>
     </g>
     <g id="text_28">
      <text style="font-size: 8px; font-family: 'DejaVu Sans', 'Liberation Sans', sans-serif; text-anchor: middle" x="287.10471" y="221.865879" transform="rotate(-0 287.10471 221.865879)">0</text>
     </g>
    </g>
    <g id="xtick_7">
     <g id="line2d_38">
      <g>
       <use href="#m1504cfccaf" x="318.915392" y="208.787129" style="stroke: #000000; stroke-width: 0.8"/>
      </g>
     </g>
     <g id="text_29">
      <text style="font-size: 8px; font-family: 'DejaVu Sans', 'Liberation Sans', sans-serif; text-anchor: middle" x="318.915392" y="221.865879" transform="rotate(-0 318.915392 221.865879)">5</text>
     </g>
    </g>
    <g id="xtick_8">
     <g id="line2d_39">
      <g>
       <use href="#m1504cfccaf" x="350.726073" y="208.787129" style="stroke: #000000; stroke-width: 0.8"/>
      </g>
     </g>
     <g id="text_30">
      <text style="font-size: 8px; font-family: 'DejaVu Sans', 'Liberation Sans', sans-serif; text-anchor: middle" x="350.726073" y="221.865879" transform="rotate(-0 350.726073 221.865879)">10</text>
     </g>
    </g>
    <g id="xtick_9">
     <g id="line2d_40">
      <g>
       <use href="#m1504cfccaf" x="382.536754" y="208.787129" style="stroke: #000000; stroke-width: 0.8"/>
      </g>
     </g>
     <g id="text_31">
      <text style="font-size: 8px; font-family: 'DejaVu Sans', 'Liberation Sans', sans-serif; text-anchor: middle" x="382.536754" y="221.865879" transform="rotate(-0 382.536754 221.865879)">15</text>
     </g>
    </g>
    <g id="xtick_10">
     <g id="line2d_41">
      <g>
       <use href="#m1504cfccaf" x="414.347435" y="208.787129" style="stroke: #000000; stroke-width: 0.8"/>
      </g>
     </g>
     <g id="text_32">
      <text style="font-size: 8px; font-family: 'DejaVu Sans', 'Liberation Sans', sans-serif; text-anchor: middle" x="414.347435" y="221.865879" transform="rotate(-0 414.347435 221.865879)">20</text>
     </g>
    </g>
    <g id="xtick_11">
     <g id="line2d_42">
      <g>
       <use href="#m1504cfccaf" x="446.158116" y="208.787129" style="stroke: #000000; stroke-width: 0.8"/>
      </g>
     </g>
     <g id="text_33">
      <text style="font-size: 8px; font-family: 'DejaVu Sans', 'Liberation Sans', sans-serif; text-anchor: middle" x="446.158116" y="221.865879" transform="rotate(-0 446.158116 221.865879)">25</text>
     </g>
    </g>
    <g id="xtick_12">
     <g id="line2d_43">
      <g>
       <use href="#m1504cfccaf" x="477.968797" y="208.787129" style="stroke: #000000; stroke-width: 0.8"/>
      </g>
     </g>
     <g id="text_34">
      <text style="font-size: 8px; font-family: 'DejaVu Sans', 'Liberation Sans', sans-serif; text-anchor: middle" x="477.968797" y="221.865879" transform="rotate(-0 477.968797 221.865879)">30</text>
     </g>
    </g>
    <g id="text_35">
     <text style="font-size: 8px; font-family: 'DejaVu Sans', 'Liberation Sans', sans-serif; text-anchor: middle" x="385.717822" y="233.608379" transform="rotate(-0 385.717822 233.608379)">Time [h]</text>
    </g>
   </g>
   <g id="matplotlib.axis_4">
    <g id="ytick_10">
     <g id="line2d_44">
      <g>
       <use href="#m5d545ce8f8" x="280.742574" y="208.787129" style="stroke: #000000; stroke-width: 0.8"/>
      </g>
     </g>
     <g id="text_36">
      <text style="font-size: 8px; font-family: 'DejaVu Sans', 'Liberation Sans', sans-serif; text-anchor: end" x="273.742574" y="211.826504" transform="rotate(-0 273.742574 211.826504)">0</text>
     </g>
    </g>
    <g id="ytick_11">
     <g id="line2d_45">
      <g>
       <use href="#m5d545ce8f8" x="280.742574" y="178.902382" style="stroke: #000000; stroke-width: 0.8"/>
      </g>
     </g>
     <g id="text_37">
      <text style="font-size: 8px; font-family: 'DejaVu Sans', 'Liberation Sans', sans-serif; text-anchor: end" x="273.742574" y="181.941757" transform="rotate(-0 273.742574 181.941757)">5</text>
     </g>
    </g>
    <g id="ytick_12">
     <g id="line2d_46">
      <g>
       <use href="#m5d545ce8f8" x="280.742574" y="149.017636" style="stroke: #000000; stroke-width: 0.8"/>
      </g>
     </g>
     <g id="text_38">
      <text style="font-size: 8px; font-family: 'DejaVu Sans', 'Liberation Sans', sans-serif; text-anchor: end" x="273.742574" y="152.057011" transform="rotate(-0 273.742574 152.057011)">10</text>
     </g>
    </g>
    <g id="ytick_13">
     <g id="line2d_47">
      <g>
       <use href="#m5d545ce8f8" x="280.742574" y="119.13289" style="stroke: #000000; stroke-width: 0.8"/>
      </g>
     </g>
     <g id="text_39">
      <text style="font-size: 8px; font-family: 'DejaVu Sans', 'Liberation Sans', sans-serif; text-anchor: end" x="273.742574" y="122.172265" transform="rotate(-0 273.742574 122.172265)">15</text>
     </g>
    </g>
    <g id="ytick_14">
     <g id="line2d_48">
      <g>
       <use href="#m5d545ce8f8" x="280.742574" y="89.248144" style="stroke: #000000; stroke-width: 0.8"/>
      </g>
     </g>
     <g id="text_40">
      <text style="font-size: 8px; font-family: 'DejaVu Sans', 'Liberation Sans', sans-serif; text-anchor: end" x="273.742574" y="92.287519" transform="rotate(-0 273.742574 92.287519)">20</text>
     </g>
    </g>
    <g id="ytick_15">
     <g id="line2d_49">
      <g>
       <use href="#m5d545ce8f8" x="280.742574" y="59.363397" style="stroke: #000000; stroke-width: 0.8"/>
      </g>
     </g>
     <g id="text_41">
      <text style="font-size: 8px; font-family: 'DejaVu Sans', 'Liberation Sans', sans-serif; text-anchor: end" x="273.742574" y="62.402772" transform="rotate(-0 273.742574 62.402772)">25</text>
     </g>
    </g>
    <g id="ytick_16">
     <g id="line2d_50">
      <g>
       <use href="#m5d545ce8f8" x="280.742574" y="29.478651" style="stroke: #000000; stroke-width: 0.8"/>
      </g>
     </g>
     <g id="text_42">
      <text style="font-size: 8px; font-family: 'DejaVu Sans', 'Liberation Sans', sans-serif; text-anchor: end" x="273.742574" y="32.518026" transform="rotate(-0 273.742574 32.518026)">30</text>
     </g>
    </g>
    <g id="text_43">
     <text style="font-size: 8px; font-family: 'DejaVu Sans', 'Liberation Sans', sans-serif; text-anchor: middle" x="257.898824" y="113.155941" transform="rotate(-90 257.898824 113.155941)">normalized OD</text>
    </g>
   </g>
   <g id="line2d_51">
    <path d="M 287.10471 205.499807 
L 312.553255 203.109027 
L 338.0018 196.056227 
L 427.071707 114.829486 
L 458.882388 79.804564 
L 484.330933 30.674041 
" clip-path="url(#p91ebfa5d52)" style="fill: none; stroke: #4682b4; stroke-width: 2; stroke-linecap: square"/>
    <g clip-path="url(#p91ebfa5d52)">
     <use href="#m28daec182a" x="287.10471" y="205.499807" style="fill: #4682b4; stroke: #4682b4; stroke-linejoin: miter"/>
     <use href="#m28daec182a" x="312.553255" y="203.109027" style="fill: #4682b4; stroke: #4682b4; stroke-linejoin: miter"/>
     <use href="#m28daec182a" x="338.0018" y="196.056227" style="fill: #4682b4; stroke: #4682b4; stroke-linejoin: miter"/>
     <use href="#m28daec182a" x="427.071707" y="114.829486" style="fill: #4682b4; stroke: #4682b4; stroke-linejoin: miter"/>
     <use href="#m28daec182a" x="458.882388" y="79.804564" style="fill: #4682b4; stroke: #4682b4; stroke-linejoin: miter"/>
     <use href="#m28daec182a" x="484.330933" y="30.674041" style="fill: #4682b4; stroke: #4682b4; stroke-linejoin: miter"/>
    </g>
   </g>
   <g id="line2d_52">
    <path d="M 287.10471 205.499807 
L 312.553255 204.125108 
L 338.0018 201.136634 
L 427.071707 180.217311 
L 458.882388 165.932403 
L 484.330933 148.957867 
" clip-path="url(#p91ebfa5d52)" style="fill: none; stroke: #9400d3; stroke-width: 2; stroke-linecap: square"/>
    <defs>
     <path id="m0469a4fe53" d="M -1.75 3.5 
L 0 1.75 
L 1.75 3.5 
L 3.5 1.75 
L 1.75 0 
L 3.5 -1.75 
L 1.75 -3.5 
L 0 -1.75 
L -1.75 -3.5 
L -3.5 -1.75 
L -1.75 0 
L -3.5 1.75 
z
" style="stroke: #9400d3; stroke-linejoin: miter"/>
    </defs>
    <g clip-path="url(#p91ebfa5d52)">
     <use href="#m0469a4fe53" x="287.10471" y="205.499807" style="fill: #9400d3; stroke: #9400d3; stroke-linejoin: miter"/>
     <use href="#m0469a4fe53" x="312.553255" y="204.125108" style="fill: #9400d3; stroke: #9400d3; stroke-linejoin: miter"/>
     <use href="#m0469a4fe53" x="338.0018" y="201.136634" style="fill: #9400d3; stroke: #9400d3; stroke-linejoin: miter"/>
     <use href="#m0469a4fe53" x="427.071707" y="180.217311" style="fill: #9400d3; stroke: #9400d3; stroke-linejoin: miter"/>
     <use href="#m0469a4fe53" x="458.882388" y="165.932403" style="fill: #9400d3; stroke: #9400d3; stroke-linejoin: miter"/>
     <use href="#m0469a4fe53" x="484.330933" y="148.957867" style="fill: #9400d3; stroke: #9400d3; stroke-linejoin: miter"/>
    </g>
   </g>
   <g id="line2d_53">
    <path d="M 287.10471 205.499807 
L 312.553255 205.08142 
L 338.0018 202.810179 
L 427.071707 186.612647 
L 458.882388 174.300131 
L 484.330933 159.058911 
" clip-path="url(#p91ebfa5d52)" style="fill: none; stroke: #ffd700; stroke-width: 2; stroke-linecap: square"/>
    <g clip-path="url(#p91ebfa5d52)">
     <use href="#mb788bae803" x="287.10471" y="205.499807" style="fill: #ffd700; stroke: #ffd700; stroke-linejoin: miter"/>
     <use href="#mb788bae803" x="312.553255" y="205.08142" style="fill: #ffd700; stroke: #ffd700; stroke-linejoin: miter"/>
     <use href="#mb788bae803" x="338.0018" y="202.810179" style="fill: #ffd700; stroke: #ffd700; stroke-linejoin: miter"/>
     <use href="#mb788bae803" x="427.071707" y="186.612647" style="fill: #ffd700; stroke: #ffd700; stroke-linejoin: miter"/>
     <use href="#mb788bae803" x="458.882388" y="174.300131" style="fill: #ffd700; stroke: #ffd700; stroke-linejoin: miter"/>
     <use href="#mb788bae803" x="484.330933" y="159.058911" style="fill: #ffd700; stroke: #ffd700; stroke-linejoin: miter"/>
    </g>
   </g>
   <g id="line2d_54">
    <path d="M 287.10471 205.499807 
L 312.553255 205.499807 
L 338.0018 204.603264 
L 427.071707 200.120552 
L 458.882388 198.925162 
L 484.330933 196.893 
" clip-path="url(#p91ebfa5d52)" style="fill: none; stroke: #a9a9a9; stroke-width: 2; stroke-linecap: square"/>
    <g clip-path="url(#p91ebfa5d52)">
     <use href="#mc8816006d7" x="287.10471" y="205.499807" style="fill: #a9a9a9; stroke: #a9a9a9; stroke-linejoin: miter"/>
     <use href="#mc8816006d7" x="312.553255" y="205.499807" style="fill: #a9a9a9; stroke: #a9a9a9; stroke-linejoin: miter"/>
     <use href="#mc8816006d7" x="338.0018" y="204.603264" style="fill: #a9a9a9; stroke: #a9a9a9; stroke-linejoin: miter"/>
     <use href="#mc8816006d7" x="427.071707" y="200.120552" style="fill: #a9a9a9; stroke: #a9a9a9; stroke-linejoin: miter"/>
     <use href="#mc8816006d7" x="458.882388" y="198.925162" style="fill: #a9a9a9; stroke: #a9a9a9; stroke-linejoin: miter"/>
     <use href="#mc8816006d7" x="484.330933" y="196.893" style="fill: #a9a9a9; stroke: #a9a9a9; stroke-linejoin: miter"/>
    </g>
   </g>
   <g id="line2d_55">
    <path d="M 287.10471 205.679115 
L 312.553255 205.918193 
L 338.0018 205.798654 
L 427.071707 202.69064 
L 458.882388 202.212485 
L 484.330933 201.136634 
" clip-path="url(#p91ebfa5d52)" style="fill: none; stroke: #a52a2a; stroke-width: 2; stroke-linecap: square"/>
    <defs>
     <path id="m9dda6353d4" d="M -1.75 3.5 
L 0 1.75 
L 1.75 3.5 
L 3.5 1.75 
L 1.75 0 
L 3.5 -1.75 
L 1.75 -3.5 
L 0 -1.75 
L -1.75 -3.5 
L -3.5 -1.75 
L -1.75 0 
L -3.5 1.75 
z
" style="stroke: #a52a2a; stroke-linejoin: miter"/>
    </defs>
    <g clip-path="url(#p91ebfa5d52)">
     <use href="#m9dda6353d4" x="287.10471" y="205.679115" style="fill: #a52a2a; stroke: #a52a2a; stroke-linejoin: miter"/>
     <use href="#m9dda6353d4" x="312.553255" y="205.918193" style="fill: #a52a2a; stroke: #a52a2a; stroke-linejoin: miter"/>
     <use href="#m9dda6353d4" x="338.0018" y="205.798654" style="fill: #a52a2a; stroke: #a52a2a; stroke-linejoin: miter"/>
     <use href="#m9dda6353d4" x="427.071707" y="202.69064" style="fill: #a52a2a; stroke: #a52a2a; stroke-linejoin: miter"/>
     <use href="#m9dda6353d4" x="458.882388" y="202.212485" style="fill: #a52a2a; stroke: #a52a2a; stroke-linejoin: miter"/>
     <use href="#m9dda6353d4" x="484.330933" y="201.136634" style="fill: #a52a2a; stroke: #a52a2a; stroke-linejoin: miter"/>
    </g>
   </g>
   <g id="patch_8">
    <path d="M 280.742574 208.787129 
L 280.742574 17.524752 
" style="fill: none; stroke: #000000; stroke-width: 0.8; stroke-linejoin: miter; stroke-linecap: square"/>
   </g>
   <g id="patch_9">
    <path d="M 490.693069 208.787129 
L 490.693069 17.524752 
" style="fill: none; stroke: #000000; stroke-width: 0.8; stroke-linejoin: miter; stroke-linecap: square"/>
   </g>
   <g id="patch_10">
    <path d="M 280.742574 208.787129 
L 490.693069 208.787129 
" style="fill: none; stroke: #000000; stroke-width: 0.8; stroke-linejoin: miter; stroke-linecap: square"/>
   </g>
   <g id="patch_11">
    <path d="M 280.742574 17.524752 
L 490.693069 17.524752 
" style="fill: none; stroke: #000000; stroke-width: 0.8; stroke-linejoin: miter; stroke-linecap: square"/>
   </g>
   <g id="legend_2">
    <g id="line2d_56">
     <g>
      <use href="#m28daec182a" x="287.642574" y="25.383815" style="fill: #4682b4; stroke: #4682b4; stroke-linejoin: miter"/>
     </g>
    </g>
    <g id="text_44">
     <text style="font-size: 6px; font-family: 'DejaVu Sans', 'Liberation Sans', sans-serif; text-anchor: start" x="293.942574" y="27.483815" transform="rotate(-0 293.942574 27.483815)">ShmKO Glycerol+FA+5%CO2</text>
    </g>
    <g id="line2d_57">
     <g>
      <use href="#m0469a4fe53" x="287.642574" y="34.16069" style="fill: #9400d3; stroke: #9400d3; stroke-linejoin: miter"/>
     </g>
    </g>
    <g id="text_45">
     <text style="font-size: 6px; font-family: 'DejaVu Sans', 'Liberation Sans', sans-serif; text-anchor: start" x="293.942574" y="36.26069" transform="rotate(-0 293.942574 36.26069)">ShmKO Glycerol+MeOH+5%CO2</text>
    </g>
    <g id="line2d_58">
     <g>
      <use href="#mb788bae803" x="287.642574" y="42.937565" style="fill: #ffd700; stroke: #ffd700; stroke-linejoin: miter"/>
     </g>
    </g>
    <g id="text_46">
     <text style="font-size: 6px; font-family: 'DejaVu Sans', 'Liberation Sans', sans-serif; text-anchor: start" x="293.942574" y="45.037565" transform="rotate(-0 293.942574 45.037565)">ShmKO Glycerol+Gly</text>
    </g>
    <g id="line2d_59">
     <g>
      <use href="#mc8816006d7" x="287.642574" y="51.71444" style="fill: #a9a9a9; stroke: #a9a9a9; stroke-linejoin: miter"/>
     </g>
    </g>
    <g id="text_47">
     <text style="font-size: 6px; font-family: 'DejaVu Sans', 'Liberation Sans', sans-serif; text-anchor: start" x="293.942574" y="53.81444" transform="rotate(-0 293.942574 53.81444)">ShmKO Glycerol+5%CO2</text>
    </g>
    <g id="line2d_60">
     <g>
      <use href="#m9dda6353d4" x="287.642574" y="60.491315" style="fill: #a52a2a; stroke: #a52a2a; stroke-linejoin: miter"/>
     </g>
    </g>
    <g id="text_48">
     <text style="font-size: 6px; font-family: 'DejaVu Sans', 'Liberation Sans', sans-serif; text-anchor: start" x="293.942574" y="62.591315" transform="rotate(-0 293.942574 62.591315)">ShmKO Glycerol</text>
    </g>
   </g>
  </g>
  <g id="axes_3">
   <g id="patch_12">
    <path d="M 31.311881 449.950495 
L 241.287129 449.950495 
L 241.287129 258.663366 
L 31.311881 258.663366 
z
" style="fill: #ffffff"/>
   </g>
   <g id="FillBetweenPolyCollection_17">
    <defs>
     <path id="mebc09fab94" d="M 37.144527 -105.49505 
L 37.144527 -105.49505 
L 41.635664 -80.149505 
L 53.096813 -80.149505 
L 70.507261 -82.540594 
L 82.172552 -79.352475 
L 93.954497 -82.381188 
L 111.335781 -92.423762 
L 123.001073 -100.234653 
L 134.549711 -116.175248 
L 152.164301 -127.493069 
L 163.887919 -134.666337 
L 175.553211 -142.158416 
L 193.167801 -145.665347 
L 204.599787 -152.679208 
L 216.323405 -160.171287 
L 216.323405 -160.171287 
L 216.323405 -160.171287 
L 204.599787 -152.679208 
L 193.167801 -145.665347 
L 175.553211 -142.158416 
L 163.887919 -134.666337 
L 152.164301 -127.493069 
L 134.549711 -116.175248 
L 123.001073 -100.234653 
L 111.335781 -92.423762 
L 93.954497 -82.381188 
L 82.172552 -79.352475 
L 70.507261 -82.540594 
L 53.096813 -80.149505 
L 41.635664 -80.149505 
L 37.144527 -105.49505 
z
" style="stroke: #00fa9a; stroke-opacity: 0.2"/>
    </defs>
    <g clip-path="url(#ped3c1360fa)">
     <use href="#mebc09fab94" x="0" y="475.742574" style="fill: #00fa9a; fill-opacity: 0.2; stroke: #00fa9a; stroke-opacity: 0.2"/>
    </g>
   </g>
   <g id="FillBetweenPolyCollection_18">
    <defs>
     <path id="m604c26adde" d="M 37.144527 -105.49505 
L 37.144527 -105.49505 
L 41.635664 -78.236634 
L 53.096813 -79.990099 
L 70.507261 -80.308911 
L 82.172552 -78.714851 
L 93.954497 -83.178218 
L 111.335781 -83.018812 
L 123.001073 -87.641584 
L 134.549711 -93.061386 
L 152.164301 -97.365347 
L 163.887919 -102.785149 
L 175.553211 -105.654455 
L 193.167801 -104.69802 
L 204.599787 -106.770297 
L 216.323405 -111.074257 
L 216.323405 -129.246535 
L 216.323405 -129.246535 
L 204.599787 -122.073267 
L 193.167801 -120.00099 
L 175.553211 -121.276238 
L 163.887919 -115.537624 
L 152.164301 -107.567327 
L 134.549711 -101.350495 
L 123.001073 -95.611881 
L 111.335781 -90.989109 
L 93.954497 -91.148515 
L 82.172552 -88.279208 
L 70.507261 -89.873267 
L 53.096813 -89.554455 
L 41.635664 -87.80099 
L 37.144527 -105.49505 
z
" style="stroke: #4682b4; stroke-opacity: 0.2"/>
    </defs>
    <g clip-path="url(#ped3c1360fa)">
     <use href="#m604c26adde" x="0" y="475.742574" style="fill: #4682b4; fill-opacity: 0.2; stroke: #4682b4; stroke-opacity: 0.2"/>
    </g>
   </g>
   <g id="FillBetweenPolyCollection_19">
    <defs>
     <path id="m1b9e14f862" d="M 37.144527 -105.49505 
L 37.144527 -105.49505 
L 41.519011 -94.974257 
L 52.601038 -98.8 
L 70.098976 -91.467327 
L 82.172552 -84.772277 
L 93.954497 -91.626733 
L 111.335781 -98.162376 
L 123.001073 -105.49505 
L 134.549711 -123.986139 
L 152.164301 -152.99802 
L 163.887919 -156.664356 
L 175.319905 -156.345545 
L 193.167801 -174.358416 
L 204.599787 -185.357426 
L 216.323405 -196.356436 
L 216.323405 -196.356436 
L 216.323405 -196.356436 
L 204.599787 -185.357426 
L 193.167801 -174.358416 
L 175.319905 -156.345545 
L 163.887919 -156.664356 
L 152.164301 -152.99802 
L 134.549711 -123.986139 
L 123.001073 -105.49505 
L 111.335781 -98.162376 
L 93.954497 -91.626733 
L 82.172552 -84.772277 
L 70.098976 -91.467327 
L 52.601038 -98.8 
L 41.519011 -94.974257 
L 37.144527 -105.49505 
z
" style="stroke: #cd853f; stroke-opacity: 0.2"/>
    </defs>
    <g clip-path="url(#ped3c1360fa)">
     <use href="#m1b9e14f862" x="0" y="475.742574" style="fill: #cd853f; fill-opacity: 0.2; stroke: #cd853f; stroke-opacity: 0.2"/>
    </g>
   </g>
   <g id="FillBetweenPolyCollection_20">
    <defs>
     <path id="mea41656692" d="M 37.144527 -105.49505 
L 37.144527 -105.49505 
L 41.344032 -83.975248 
L 53.009323 -85.091089 
L 70.507261 -81.743564 
L 82.172552 -75.526733 
L 93.954497 -82.062376 
L 111.335781 -84.134653 
L 123.001073 -89.554455 
L 134.549711 -101.828713 
L 152.164301 -113.943564 
L 163.887919 -118.406931 
L 175.319905 -119.363366 
L 193.167801 -130.521782 
L 204.599787 -134.666337 
L 216.323405 -143.593069 
L 216.323405 -154.113861 
L 216.323405 -154.113861 
L 204.599787 -148.056436 
L 193.167801 -141.680198 
L 175.319905 -131.478218 
L 163.887919 -131.159406 
L 152.164301 -128.290099 
L 134.549711 -111.393069 
L 123.001073 -95.930693 
L 111.335781 -90.510891 
L 93.954497 -88.438614 
L 82.172552 -81.90297 
L 70.507261 -88.119802 
L 53.009323 -91.467327 
L 41.344032 -90.351485 
L 37.144527 -105.49505 
z
" style="stroke: #800000; stroke-opacity: 0.2"/>
    </defs>
    <g clip-path="url(#ped3c1360fa)">
     <use href="#mea41656692" x="0" y="475.742574" style="fill: #800000; fill-opacity: 0.2; stroke: #800000; stroke-opacity: 0.2"/>
    </g>
   </g>
   <g id="FillBetweenPolyCollection_21">
    <defs>
     <path id="mbf84402246" d="M 37.144527 -105.49505 
L 37.144527 -105.49505 
L 40.760767 -83.656436 
L 58.317031 -90.192079 
L 70.040649 -93.858416 
L 81.705941 -81.743564 
L 99.49551 -73.29505 
L 110.69419 -74.092079 
L 122.301155 -73.613861 
L 139.740766 -78.236634 
L 153.330831 -77.280198 
L 164.996122 -78.236634 
L 181.094224 -84.294059 
L 198.183877 -89.076238 
L 227.230452 -89.873267 
L 227.230452 -98.481188 
L 227.230452 -98.481188 
L 198.183877 -101.191089 
L 181.094224 -98.00297 
L 164.996122 -87.163366 
L 153.330831 -90.032673 
L 139.740766 -90.989109 
L 122.301155 -90.192079 
L 110.69419 -79.830693 
L 99.49551 -81.265347 
L 81.705941 -91.307921 
L 70.040649 -102.466337 
L 58.317031 -105.49505 
L 40.760767 -90.032673 
L 37.144527 -105.49505 
z
" style="stroke: #000000; stroke-opacity: 0.2"/>
    </defs>
    <g clip-path="url(#ped3c1360fa)">
     <use href="#mbf84402246" x="0" y="475.742574" style="fill-opacity: 0.2; stroke: #000000; stroke-opacity: 0.2"/>
    </g>
   </g>
   <g id="matplotlib.axis_5">
    <g id="xtick_13">
     <g id="line2d_61">
      <g>
       <use href="#m1504cfccaf" x="37.144527" y="449.950495" style="stroke: #000000; stroke-width: 0.8"/>
      </g>
     </g>
     <g id="text_49">
      <text style="font-size: 8px; font-family: 'DejaVu Sans', 'Liberation Sans', sans-serif; text-anchor: middle" x="37.144527" y="463.029245" transform="rotate(-0 37.144527 463.029245)">0</text>
     </g>
    </g>
    <g id="xtick_14">
     <g id="line2d_62">
      <g>
       <use href="#m1504cfccaf" x="66.307756" y="449.950495" style="stroke: #000000; stroke-width: 0.8"/>
      </g>
     </g>
     <g id="text_50">
      <text style="font-size: 8px; font-family: 'DejaVu Sans', 'Liberation Sans', sans-serif; text-anchor: middle" x="66.307756" y="463.029245" transform="rotate(-0 66.307756 463.029245)">5</text>
     </g>
    </g>
    <g id="xtick_15">
     <g id="line2d_63">
      <g>
       <use href="#m1504cfccaf" x="95.470985" y="449.950495" style="stroke: #000000; stroke-width: 0.8"/>
      </g>
     </g>
     <g id="text_51">
      <text style="font-size: 8px; font-family: 'DejaVu Sans', 'Liberation Sans', sans-serif; text-anchor: middle" x="95.470985" y="463.029245" transform="rotate(-0 95.470985 463.029245)">10</text>
     </g>
    </g>
    <g id="xtick_16">
     <g id="line2d_64">
      <g>
       <use href="#m1504cfccaf" x="124.634213" y="449.950495" style="stroke: #000000; stroke-width: 0.8"/>
      </g>
     </g>
     <g id="text_52">
      <text style="font-size: 8px; font-family: 'DejaVu Sans', 'Liberation Sans', sans-serif; text-anchor: middle" x="124.634213" y="463.029245" transform="rotate(-0 124.634213 463.029245)">15</text>
     </g>
    </g>
    <g id="xtick_17">
     <g id="line2d_65">
      <g>
       <use href="#m1504cfccaf" x="153.797442" y="449.950495" style="stroke: #000000; stroke-width: 0.8"/>
      </g>
     </g>
     <g id="text_53">
      <text style="font-size: 8px; font-family: 'DejaVu Sans', 'Liberation Sans', sans-serif; text-anchor: middle" x="153.797442" y="463.029245" transform="rotate(-0 153.797442 463.029245)">20</text>
     </g>
    </g>
    <g id="xtick_18">
     <g id="line2d_66">
      <g>
       <use href="#m1504cfccaf" x="182.960671" y="449.950495" style="stroke: #000000; stroke-width: 0.8"/>
      </g>
     </g>
     <g id="text_54">
      <text style="font-size: 8px; font-family: 'DejaVu Sans', 'Liberation Sans', sans-serif; text-anchor: middle" x="182.960671" y="463.029245" transform="rotate(-0 182.960671 463.029245)">25</text>
     </g>
    </g>
    <g id="xtick_19">
     <g id="line2d_67">
      <g>
       <use href="#m1504cfccaf" x="212.1239" y="449.950495" style="stroke: #000000; stroke-width: 0.8"/>
      </g>
     </g>
     <g id="text_55">
      <text style="font-size: 8px; font-family: 'DejaVu Sans', 'Liberation Sans', sans-serif; text-anchor: middle" x="212.1239" y="463.029245" transform="rotate(-0 212.1239 463.029245)">30</text>
     </g>
    </g>
    <g id="xtick_20">
     <g id="line2d_68">
      <g>
       <use href="#m1504cfccaf" x="241.287129" y="449.950495" style="stroke: #000000; stroke-width: 0.8"/>
      </g>
     </g>
     <g id="text_56">
      <text style="font-size: 8px; font-family: 'DejaVu Sans', 'Liberation Sans', sans-serif; text-anchor: middle" x="241.287129" y="463.029245" transform="rotate(-0 241.287129 463.029245)">35</text>
     </g>
    </g>
    <g id="text_57">
     <text style="font-size: 8px; font-family: 'DejaVu Sans', 'Liberation Sans', sans-serif; text-anchor: middle" x="136.299505" y="474.771745" transform="rotate(-0 136.299505 474.771745)">Time [d]</text>
    </g>
   </g>
   <g id="matplotlib.axis_6">
    <g id="ytick_17">
     <g id="line2d_69">
      <g>
       <use href="#m5d545ce8f8" x="31.311881" y="449.950495" style="stroke: #000000; stroke-width: 0.8"/>
      </g>
     </g>
     <g id="text_58">
      <text style="font-size: 8px; font-family: 'DejaVu Sans', 'Liberation Sans', sans-serif; text-anchor: end" x="24.311881" y="452.98987" transform="rotate(-0 24.311881 452.98987)">0.0</text>
     </g>
    </g>
    <g id="ytick_18">
     <g id="line2d_70">
      <g>
       <use href="#m5d545ce8f8" x="31.311881" y="418.069307" style="stroke: #000000; stroke-width: 0.8"/>
      </g>
     </g>
     <g id="text_59">
      <text style="font-size: 8px; font-family: 'DejaVu Sans', 'Liberation Sans', sans-serif; text-anchor: end" x="24.311881" y="421.108682" transform="rotate(-0 24.311881 421.108682)">0.2</text>
     </g>
    </g>
    <g id="ytick_19">
     <g id="line2d_71">
      <g>
       <use href="#m5d545ce8f8" x="31.311881" y="386.188119" style="stroke: #000000; stroke-width: 0.8"/>
      </g>
     </g>
     <g id="text_60">
      <text style="font-size: 8px; font-family: 'DejaVu Sans', 'Liberation Sans', sans-serif; text-anchor: end" x="24.311881" y="389.227494" transform="rotate(-0 24.311881 389.227494)">0.4</text>
     </g>
    </g>
    <g id="ytick_20">
     <g id="line2d_72">
      <g>
       <use href="#m5d545ce8f8" x="31.311881" y="354.306931" style="stroke: #000000; stroke-width: 0.8"/>
      </g>
     </g>
     <g id="text_61">
      <text style="font-size: 8px; font-family: 'DejaVu Sans', 'Liberation Sans', sans-serif; text-anchor: end" x="24.311881" y="357.346306" transform="rotate(-0 24.311881 357.346306)">0.6</text>
     </g>
    </g>
    <g id="ytick_21">
     <g id="line2d_73">
      <g>
       <use href="#m5d545ce8f8" x="31.311881" y="322.425743" style="stroke: #000000; stroke-width: 0.8"/>
      </g>
     </g>
     <g id="text_62">
      <text style="font-size: 8px; font-family: 'DejaVu Sans', 'Liberation Sans', sans-serif; text-anchor: end" x="24.311881" y="325.465118" transform="rotate(-0 24.311881 325.465118)">0.8</text>
     </g>
    </g>
    <g id="ytick_22">
     <g id="line2d_74">
      <g>
       <use href="#m5d545ce8f8" x="31.311881" y="290.544554" style="stroke: #000000; stroke-width: 0.8"/>
      </g>
     </g>
     <g id="text_63">
      <text style="font-size: 8px; font-family: 'DejaVu Sans', 'Liberation Sans', sans-serif; text-anchor: end" x="24.311881" y="293.583929" transform="rotate(-0 24.311881 293.583929)">1.0</text>
     </g>
    </g>
    <g id="ytick_23">
     <g id="line2d_75">
      <g>
       <use href="#m5d545ce8f8" x="31.311881" y="258.663366" style="stroke: #000000; stroke-width: 0.8"/>
      </g>
     </g>
     <g id="text_64">
      <text style="font-size: 8px; font-family: 'DejaVu Sans', 'Liberation Sans', sans-serif; text-anchor: end" x="24.311881" y="261.702741" transform="rotate(-0 24.311881 261.702741)">1.2</text>
     </g>
    </g>
    <g id="text_65">
     <text style="font-size: 8px; font-family: 'DejaVu Sans', 'Liberation Sans', sans-serif; text-anchor: middle" x="5.925631" y="354.306931" transform="rotate(-90 5.925631 354.306931)">normalized OD</text>
    </g>
   </g>
   <g id="line2d_76">
    <path d="M 37.144527 370.247525 
L 41.635664 395.593069 
L 53.096813 395.593069 
L 70.507261 393.20198 
L 82.172552 396.390099 
L 93.954497 393.361386 
L 111.335781 383.318812 
L 123.001073 375.507921 
L 134.549711 359.567327 
L 152.164301 348.249505 
L 163.887919 341.076238 
L 175.553211 333.584158 
L 193.167801 330.077228 
L 204.599787 323.063366 
L 216.323405 315.571287 
" clip-path="url(#ped3c1360fa)" style="fill: none; stroke: #00fa9a; stroke-width: 2; stroke-linecap: square"/>
    <defs>
     <path id="m0bceedb170" d="M -1.75 3.5 
L 0 1.75 
L 1.75 3.5 
L 3.5 1.75 
L 1.75 0 
L 3.5 -1.75 
L 1.75 -3.5 
L 0 -1.75 
L -1.75 -3.5 
L -3.5 -1.75 
L -1.75 0 
L -3.5 1.75 
z
" style="stroke: #00fa9a; stroke-linejoin: miter"/>
    </defs>
    <g clip-path="url(#ped3c1360fa)">
     <use href="#m0bceedb170" x="37.144527" y="370.247525" style="fill: #00fa9a; stroke: #00fa9a; stroke-linejoin: miter"/>
     <use href="#m0bceedb170" x="41.635664" y="395.593069" style="fill: #00fa9a; stroke: #00fa9a; stroke-linejoin: miter"/>
     <use href="#m0bceedb170" x="53.096813" y="395.593069" style="fill: #00fa9a; stroke: #00fa9a; stroke-linejoin: miter"/>
     <use href="#m0bceedb170" x="70.507261" y="393.20198" style="fill: #00fa9a; stroke: #00fa9a; stroke-linejoin: miter"/>
     <use href="#m0bceedb170" x="82.172552" y="396.390099" style="fill: #00fa9a; stroke: #00fa9a; stroke-linejoin: miter"/>
     <use href="#m0bceedb170" x="93.954497" y="393.361386" style="fill: #00fa9a; stroke: #00fa9a; stroke-linejoin: miter"/>
     <use href="#m0bceedb170" x="111.335781" y="383.318812" style="fill: #00fa9a; stroke: #00fa9a; stroke-linejoin: miter"/>
     <use href="#m0bceedb170" x="123.001073" y="375.507921" style="fill: #00fa9a; stroke: #00fa9a; stroke-linejoin: miter"/>
     <use href="#m0bceedb170" x="134.549711" y="359.567327" style="fill: #00fa9a; stroke: #00fa9a; stroke-linejoin: miter"/>
     <use href="#m0bceedb170" x="152.164301" y="348.249505" style="fill: #00fa9a; stroke: #00fa9a; stroke-linejoin: miter"/>
     <use href="#m0bceedb170" x="163.887919" y="341.076238" style="fill: #00fa9a; stroke: #00fa9a; stroke-linejoin: miter"/>
     <use href="#m0bceedb170" x="175.553211" y="333.584158" style="fill: #00fa9a; stroke: #00fa9a; stroke-linejoin: miter"/>
     <use href="#m0bceedb170" x="193.167801" y="330.077228" style="fill: #00fa9a; stroke: #00fa9a; stroke-linejoin: miter"/>
     <use href="#m0bceedb170" x="204.599787" y="323.063366" style="fill: #00fa9a; stroke: #00fa9a; stroke-linejoin: miter"/>
     <use href="#m0bceedb170" x="216.323405" y="315.571287" style="fill: #00fa9a; stroke: #00fa9a; stroke-linejoin: miter"/>
    </g>
   </g>
   <g id="line2d_77">
    <path d="M 37.144527 370.247525 
L 41.635664 392.723762 
L 53.096813 390.970297 
L 70.507261 390.651485 
L 82.172552 392.245545 
L 93.954497 388.579208 
L 111.335781 388.738614 
L 123.001073 384.115842 
L 134.549711 378.536634 
L 152.164301 373.276238 
L 163.887919 366.581188 
L 175.553211 362.277228 
L 193.167801 363.393069 
L 204.599787 361.320792 
L 216.323405 355.582178 
" clip-path="url(#ped3c1360fa)" style="fill: none; stroke: #4682b4; stroke-width: 2; stroke-linecap: square"/>
    <g clip-path="url(#ped3c1360fa)">
     <use href="#m28daec182a" x="37.144527" y="370.247525" style="fill: #4682b4; stroke: #4682b4; stroke-linejoin: miter"/>
     <use href="#m28daec182a" x="41.635664" y="392.723762" style="fill: #4682b4; stroke: #4682b4; stroke-linejoin: miter"/>
     <use href="#m28daec182a" x="53.096813" y="390.970297" style="fill: #4682b4; stroke: #4682b4; stroke-linejoin: miter"/>
     <use href="#m28daec182a" x="70.507261" y="390.651485" style="fill: #4682b4; stroke: #4682b4; stroke-linejoin: miter"/>
     <use href="#m28daec182a" x="82.172552" y="392.245545" style="fill: #4682b4; stroke: #4682b4; stroke-linejoin: miter"/>
     <use href="#m28daec182a" x="93.954497" y="388.579208" style="fill: #4682b4; stroke: #4682b4; stroke-linejoin: miter"/>
     <use href="#m28daec182a" x="111.335781" y="388.738614" style="fill: #4682b4; stroke: #4682b4; stroke-linejoin: miter"/>
     <use href="#m28daec182a" x="123.001073" y="384.115842" style="fill: #4682b4; stroke: #4682b4; stroke-linejoin: miter"/>
     <use href="#m28daec182a" x="134.549711" y="378.536634" style="fill: #4682b4; stroke: #4682b4; stroke-linejoin: miter"/>
     <use href="#m28daec182a" x="152.164301" y="373.276238" style="fill: #4682b4; stroke: #4682b4; stroke-linejoin: miter"/>
     <use href="#m28daec182a" x="163.887919" y="366.581188" style="fill: #4682b4; stroke: #4682b4; stroke-linejoin: miter"/>
     <use href="#m28daec182a" x="175.553211" y="362.277228" style="fill: #4682b4; stroke: #4682b4; stroke-linejoin: miter"/>
     <use href="#m28daec182a" x="193.167801" y="363.393069" style="fill: #4682b4; stroke: #4682b4; stroke-linejoin: miter"/>
     <use href="#m28daec182a" x="204.599787" y="361.320792" style="fill: #4682b4; stroke: #4682b4; stroke-linejoin: miter"/>
     <use href="#m28daec182a" x="216.323405" y="355.582178" style="fill: #4682b4; stroke: #4682b4; stroke-linejoin: miter"/>
    </g>
   </g>
   <g id="line2d_78">
    <path d="M 37.144527 370.247525 
L 41.519011 380.768317 
L 52.601038 376.942574 
L 70.098976 384.275248 
L 82.172552 390.970297 
L 93.954497 384.115842 
L 111.335781 377.580198 
L 123.001073 370.247525 
L 134.549711 351.756436 
L 152.164301 322.744554 
L 163.887919 319.078218 
L 175.319905 319.39703 
L 193.167801 301.384158 
L 204.599787 290.385149 
L 216.323405 279.386139 
" clip-path="url(#ped3c1360fa)" style="fill: none; stroke: #cd853f; stroke-width: 2; stroke-linecap: square"/>
    <defs>
     <path id="m0729c1143e" d="M -1.75 3.5 
L 0 1.75 
L 1.75 3.5 
L 3.5 1.75 
L 1.75 0 
L 3.5 -1.75 
L 1.75 -3.5 
L 0 -1.75 
L -1.75 -3.5 
L -3.5 -1.75 
L -1.75 0 
L -3.5 1.75 
z
" style="stroke: #cd853f; stroke-linejoin: miter"/>
    </defs>
    <g clip-path="url(#ped3c1360fa)">
     <use href="#m0729c1143e" x="37.144527" y="370.247525" style="fill: #cd853f; stroke: #cd853f; stroke-linejoin: miter"/>
     <use href="#m0729c1143e" x="41.519011" y="380.768317" style="fill: #cd853f; stroke: #cd853f; stroke-linejoin: miter"/>
     <use href="#m0729c1143e" x="52.601038" y="376.942574" style="fill: #cd853f; stroke: #cd853f; stroke-linejoin: miter"/>
     <use href="#m0729c1143e" x="70.098976" y="384.275248" style="fill: #cd853f; stroke: #cd853f; stroke-linejoin: miter"/>
     <use href="#m0729c1143e" x="82.172552" y="390.970297" style="fill: #cd853f; stroke: #cd853f; stroke-linejoin: miter"/>
     <use href="#m0729c1143e" x="93.954497" y="384.115842" style="fill: #cd853f; stroke: #cd853f; stroke-linejoin: miter"/>
     <use href="#m0729c1143e" x="111.335781" y="377.580198" style="fill: #cd853f; stroke: #cd853f; stroke-linejoin: miter"/>
     <use href="#m0729c1143e" x="123.001073" y="370.247525" style="fill: #cd853f; stroke: #cd853f; stroke-linejoin: miter"/>
     <use href="#m0729c1143e" x="134.549711" y="351.756436" style="fill: #cd853f; stroke: #cd853f; stroke-linejoin: miter"/>
     <use href="#m0729c1143e" x="152.164301" y="322.744554" style="fill: #cd853f; stroke: #cd853f; stroke-linejoin: miter"/>
     <use href="#m0729c1143e" x="163.887919" y="319.078218" style="fill: #cd853f; stroke: #cd853f; stroke-linejoin: miter"/>
     <use href="#m0729c1143e" x="175.319905" y="319.39703" style="fill: #cd853f; stroke: #cd853f; stroke-linejoin: miter"/>
     <use href="#m0729c1143e" x="193.167801" y="301.384158" style="fill: #cd853f; stroke: #cd853f; stroke-linejoin: miter"/>
     <use href="#m0729c1143e" x="204.599787" y="290.385149" style="fill: #cd853f; stroke: #cd853f; stroke-linejoin: miter"/>
     <use href="#m0729c1143e" x="216.323405" y="279.386139" style="fill: #cd853f; stroke: #cd853f; stroke-linejoin: miter"/>
    </g>
   </g>
   <g id="line2d_79">
    <path d="M 37.144527 370.247525 
L 41.344032 388.579208 
L 53.009323 387.463366 
L 70.507261 390.810891 
L 82.172552 397.027723 
L 93.954497 390.492079 
L 111.335781 388.419802 
L 123.001073 383 
L 134.549711 369.131683 
L 152.164301 354.625743 
L 163.887919 350.959406 
L 175.319905 350.321782 
L 193.167801 339.641584 
L 204.599787 334.381188 
L 216.323405 326.889109 
" clip-path="url(#ped3c1360fa)" style="fill: none; stroke: #800000; stroke-width: 2; stroke-linecap: square"/>
    <defs>
     <path id="m6ad5983ac9" d="M -1.75 3.5 
L 0 1.75 
L 1.75 3.5 
L 3.5 1.75 
L 1.75 0 
L 3.5 -1.75 
L 1.75 -3.5 
L 0 -1.75 
L -1.75 -3.5 
L -3.5 -1.75 
L -1.75 0 
L -3.5 1.75 
z
" style="stroke: #800000; stroke-linejoin: miter"/>
    </defs>
    <g clip-path="url(#ped3c1360fa)">
     <use href="#m6ad5983ac9" x="37.144527" y="370.247525" style="fill: #800000; stroke: #800000; stroke-linejoin: miter"/>
     <use href="#m6ad5983ac9" x="41.344032" y="388.579208" style="fill: #800000; stroke: #800000; stroke-linejoin: miter"/>
     <use href="#m6ad5983ac9" x="53.009323" y="387.463366" style="fill: #800000; stroke: #800000; stroke-linejoin: miter"/>
     <use href="#m6ad5983ac9" x="70.507261" y="390.810891" style="fill: #800000; stroke: #800000; stroke-linejoin: miter"/>
     <use href="#m6ad5983ac9" x="82.172552" y="397.027723" style="fill: #800000; stroke: #800000; stroke-linejoin: miter"/>
     <use href="#m6ad5983ac9" x="93.954497" y="390.492079" style="fill: #800000; stroke: #800000; stroke-linejoin: miter"/>
     <use href="#m6ad5983ac9" x="111.335781" y="388.419802" style="fill: #800000; stroke: #800000; stroke-linejoin: miter"/>
     <use href="#m6ad5983ac9" x="123.001073" y="383" style="fill: #800000; stroke: #800000; stroke-linejoin: miter"/>
     <use href="#m6ad5983ac9" x="134.549711" y="369.131683" style="fill: #800000; stroke: #800000; stroke-linejoin: miter"/>
     <use href="#m6ad5983ac9" x="152.164301" y="354.625743" style="fill: #800000; stroke: #800000; stroke-linejoin: miter"/>
     <use href="#m6ad5983ac9" x="163.887919" y="350.959406" style="fill: #800000; stroke: #800000; stroke-linejoin: miter"/>
     <use href="#m6ad5983ac9" x="175.319905" y="350.321782" style="fill: #800000; stroke: #800000; stroke-linejoin: miter"/>
     <use href="#m6ad5983ac9" x="193.167801" y="339.641584" style="fill: #800000; stroke: #800000; stroke-linejoin: miter"/>
     <use href="#m6ad5983ac9" x="204.599787" y="334.381188" style="fill: #800000; stroke: #800000; stroke-linejoin: miter"/>
     <use href="#m6ad5983ac9" x="216.323405" y="326.889109" style="fill: #800000; stroke: #800000; stroke-linejoin: miter"/>
    </g>
   </g>
   <g id="line2d_80">
    <path d="M 37.144527 370.247525 
L 40.760767 388.89802 
L 58.317031 377.89901 
L 70.040649 377.580198 
L 81.705941 389.216832 
L 99.49551 398.462376 
L 110.69419 398.781188 
L 122.301155 393.839604 
L 139.740766 391.129703 
L 153.330831 392.086139 
L 164.996122 393.042574 
L 181.094224 384.594059 
L 198.183877 380.608911 
L 227.230452 381.565347 
" clip-path="url(#ped3c1360fa)" style="fill: none; stroke: #000000; stroke-width: 2; stroke-linecap: square"/>
    <g clip-path="url(#ped3c1360fa)">
     <use href="#m90956b48b6" x="37.144527" y="370.247525" style="stroke: #000000; stroke-linejoin: miter"/>
     <use href="#m90956b48b6" x="40.760767" y="388.89802" style="stroke: #000000; stroke-linejoin: miter"/>
     <use href="#m90956b48b6" x="58.317031" y="377.89901" style="stroke: #000000; stroke-linejoin: miter"/>
     <use href="#m90956b48b6" x="70.040649" y="377.580198" style="stroke: #000000; stroke-linejoin: miter"/>
     <use href="#m90956b48b6" x="81.705941" y="389.216832" style="stroke: #000000; stroke-linejoin: miter"/>
     <use href="#m90956b48b6" x="99.49551" y="398.462376" style="stroke: #000000; stroke-linejoin: miter"/>
     <use href="#m90956b48b6" x="110.69419" y="398.781188" style="stroke: #000000; stroke-linejoin: miter"/>
     <use href="#m90956b48b6" x="122.301155" y="393.839604" style="stroke: #000000; stroke-linejoin: miter"/>
     <use href="#m90956b48b6" x="139.740766" y="391.129703" style="stroke: #000000; stroke-linejoin: miter"/>
     <use href="#m90956b48b6" x="153.330831" y="392.086139" style="stroke: #000000; stroke-linejoin: miter"/>
     <use href="#m90956b48b6" x="164.996122" y="393.042574" style="stroke: #000000; stroke-linejoin: miter"/>
     <use href="#m90956b48b6" x="181.094224" y="384.594059" style="stroke: #000000; stroke-linejoin: miter"/>
     <use href="#m90956b48b6" x="198.183877" y="380.608911" style="stroke: #000000; stroke-linejoin: miter"/>
     <use href="#m90956b48b6" x="227.230452" y="381.565347" style="stroke: #000000; stroke-linejoin: miter"/>
    </g>
   </g>
   <g id="patch_13">
    <path d="M 31.311881 449.950495 
L 31.311881 258.663366 
" style="fill: none; stroke: #000000; stroke-width: 0.8; stroke-linejoin: miter; stroke-linecap: square"/>
   </g>
   <g id="patch_14">
    <path d="M 241.287129 449.950495 
L 241.287129 258.663366 
" style="fill: none; stroke: #000000; stroke-width: 0.8; stroke-linejoin: miter; stroke-linecap: square"/>
   </g>
   <g id="patch_15">
    <path d="M 31.311881 449.950495 
L 241.287129 449.950495 
" style="fill: none; stroke: #000000; stroke-width: 0.8; stroke-linejoin: miter; stroke-linecap: square"/>
   </g>
   <g id="patch_16">
    <path d="M 31.311881 258.663366 
L 241.287129 258.663366 
" style="fill: none; stroke: #000000; stroke-width: 0.8; stroke-linejoin: miter; stroke-linecap: square"/>
   </g>
   <g id="legend_3">
    <g id="line2d_81">
     <g>
      <use href="#m0bceedb170" x="38.211881" y="270.505679" style="fill: #00fa9a; stroke: #00fa9a; stroke-linejoin: miter"/>
     </g>
    </g>
    <g id="text_66">
     <text style="font-size: 6px; font-family: 'DejaVu Sans', 'Liberation Sans', sans-serif" transform="translate(44.511881 268.622429)">Shm1KO</text>
     <text style="font-size: 6px; font-family: 'DejaVu Sans', 'Liberation Sans', sans-serif" transform="translate(44.511881 275.341116)">MeOH+5%CO2 25°C</text>
    </g>
    <g id="line2d_82">
     <g>
      <use href="#m28daec182a" x="38.211881" y="286.001241" style="fill: #4682b4; stroke: #4682b4; stroke-linejoin: miter"/>
     </g>
    </g>
    <g id="text_67">
     <text style="font-size: 6px; font-family: 'DejaVu Sans', 'Liberation Sans', sans-serif" transform="translate(44.511881 284.117991)">Shm1KO MeMisOE</text>
     <text style="font-size: 6px; font-family: 'DejaVu Sans', 'Liberation Sans', sans-serif" transform="translate(44.511881 290.836679)">MeOH+5%CO2 25°C</text>
    </g>
    <g id="line2d_83">
     <g>
      <use href="#m0729c1143e" x="38.211881" y="301.496804" style="fill: #cd853f; stroke: #cd853f; stroke-linejoin: miter"/>
     </g>
    </g>
    <g id="text_68">
     <text style="font-size: 6px; font-family: 'DejaVu Sans', 'Liberation Sans', sans-serif" transform="translate(44.511881 299.613554)">Shm1KO</text>
     <text style="font-size: 6px; font-family: 'DejaVu Sans', 'Liberation Sans', sans-serif" transform="translate(44.511881 306.332241)">MeOH+5%CO2 30°C</text>
    </g>
    <g id="line2d_84">
     <g>
      <use href="#m6ad5983ac9" x="38.211881" y="316.992366" style="fill: #800000; stroke: #800000; stroke-linejoin: miter"/>
     </g>
    </g>
    <g id="text_69">
     <text style="font-size: 6px; font-family: 'DejaVu Sans', 'Liberation Sans', sans-serif" transform="translate(44.511881 315.109116)">Shm1KO MeMisOE</text>
     <text style="font-size: 6px; font-family: 'DejaVu Sans', 'Liberation Sans', sans-serif" transform="translate(44.511881 321.827804)">MeOH+5%CO2 30°C</text>
    </g>
    <g id="line2d_85">
     <g>
      <use href="#m90956b48b6" x="38.211881" y="328.504679" style="stroke: #000000; stroke-linejoin: miter"/>
     </g>
    </g>
    <g id="text_70">
     <text style="font-size: 6px; font-family: 'DejaVu Sans', 'Liberation Sans', sans-serif; text-anchor: start" x="44.511881" y="330.604679" transform="rotate(-0 44.511881 330.604679)">DasKO MeOH+5%CO2</text>
    </g>
   </g>
  </g>
  <g id="axes_4">
   <g id="patch_17">
    <path d="M 280.693069 449.950495 
L 490.693069 449.950495 
L 490.693069 258.663366 
L 280.693069 258.663366 
z
" style="fill: #ffffff"/>
   </g>
   <g id="FillBetweenPolyCollection_22">
    <defs>
     <path id="m9df0df4e8c" d="M 286.526403 -105.49505 
L 286.526403 -105.49505 
L 290.959736 -56.39802 
L 302.509736 -68.672277 
L 319.893069 -64.049505 
L 331.676403 -59.586139 
L 343.226403 -71.70099 
L 360.551403 -74.729703 
L 370.351403 -80.468317 
L 383.943069 -84.134653 
L 401.618069 -108.842574 
L 413.284736 -111.711881 
L 424.951403 -114.9 
L 442.684736 -111.711881 
L 454.001403 -117.609901 
L 465.726403 -130.043564 
L 465.726403 -130.043564 
L 465.726403 -130.043564 
L 454.001403 -117.609901 
L 442.684736 -111.711881 
L 424.951403 -114.9 
L 413.284736 -111.711881 
L 401.618069 -108.842574 
L 383.943069 -84.134653 
L 370.351403 -80.468317 
L 360.551403 -74.729703 
L 343.226403 -71.70099 
L 331.676403 -59.586139 
L 319.893069 -64.049505 
L 302.509736 -68.672277 
L 290.959736 -56.39802 
L 286.526403 -105.49505 
z
" style="stroke: #00fa9a; stroke-opacity: 0.2"/>
    </defs>
    <g clip-path="url(#pa5cbdc67f9)">
     <use href="#m9df0df4e8c" x="0" y="475.742574" style="fill: #00fa9a; fill-opacity: 0.2; stroke: #00fa9a; stroke-opacity: 0.2"/>
    </g>
   </g>
   <g id="FillBetweenPolyCollection_23">
    <defs>
     <path id="mf742233bde" d="M 286.526403 -105.49505 
L 286.526403 -105.49505 
L 290.959736 -76.642574 
L 302.509736 -76.961386 
L 319.893069 -76.483168 
L 331.676403 -76.483168 
L 343.226403 -75.207921 
L 360.551403 -81.90297 
L 372.218069 -77.59901 
L 384.234736 -110.59604 
L 401.618069 -129.405941 
L 413.284736 -130.840594 
L 424.951403 -133.391089 
L 442.684736 -132.594059 
L 454.001403 -132.753465 
L 465.726403 -130.681188 
L 465.726403 -158.417822 
L 465.726403 -158.417822 
L 454.001403 -158.258416 
L 442.684736 -157.142574 
L 424.951403 -158.89604 
L 413.284736 -159.533663 
L 401.618069 -159.055446 
L 384.234736 -148.853465 
L 372.218069 -138.173267 
L 360.551403 -137.69505 
L 343.226403 -133.550495 
L 331.676403 -92.423762 
L 319.893069 -95.293069 
L 302.509736 -96.090099 
L 290.959736 -83.018812 
L 286.526403 -105.49505 
z
" style="stroke: #4682b4; stroke-opacity: 0.2"/>
    </defs>
    <g clip-path="url(#pa5cbdc67f9)">
     <use href="#mf742233bde" x="0" y="475.742574" style="fill: #4682b4; fill-opacity: 0.2; stroke: #4682b4; stroke-opacity: 0.2"/>
    </g>
   </g>
   <g id="FillBetweenPolyCollection_24">
    <defs>
     <path id="m5911d391e5" d="M 286.526403 -105.49505 
L 286.526403 -105.49505 
L 290.959736 -85.250495 
L 302.509736 -105.49505 
L 319.893069 -102.306931 
L 331.676403 -89.873267 
L 343.226403 -86.366337 
L 360.551403 -83.178218 
L 372.218069 -98.959406 
L 384.234736 -130.840594 
L 401.618069 -134.347525 
L 413.284736 -134.347525 
L 424.951403 -140.723762 
L 442.684736 -150.447525 
L 454.001403 -153.635644 
L 465.726403 -156.823762 
L 465.726403 -156.823762 
L 465.726403 -156.823762 
L 454.001403 -153.635644 
L 442.684736 -150.447525 
L 424.951403 -140.723762 
L 413.284736 -134.347525 
L 401.618069 -134.347525 
L 384.234736 -130.840594 
L 372.218069 -98.959406 
L 360.551403 -83.178218 
L 343.226403 -86.366337 
L 331.676403 -89.873267 
L 319.893069 -102.306931 
L 302.509736 -105.49505 
L 290.959736 -85.250495 
L 286.526403 -105.49505 
z
" style="stroke: #cd853f; stroke-opacity: 0.2"/>
    </defs>
    <g clip-path="url(#pa5cbdc67f9)">
     <use href="#m5911d391e5" x="0" y="475.742574" style="fill: #cd853f; fill-opacity: 0.2; stroke: #cd853f; stroke-opacity: 0.2"/>
    </g>
   </g>
   <g id="FillBetweenPolyCollection_25">
    <defs>
     <path id="mf4e11b6c8f" d="M 286.526403 -105.49505 
L 286.526403 -105.49505 
L 290.959736 -87.482178 
L 302.509736 -93.539604 
L 319.893069 -95.133663 
L 331.676403 -88.279208 
L 343.226403 -95.293069 
L 360.843069 -101.509901 
L 372.218069 -105.973267 
L 383.943069 -112.190099 
L 401.618069 -121.754455 
L 413.284736 -122.710891 
L 424.951403 -126.058416 
L 442.684736 -134.188119 
L 454.001403 -134.028713 
L 465.726403 -140.723762 
L 465.726403 -153.476238 
L 465.726403 -153.476238 
L 454.001403 -146.781188 
L 442.684736 -145.346535 
L 424.951403 -135.622772 
L 413.284736 -132.275248 
L 401.618069 -131.318812 
L 383.943069 -121.754455 
L 372.218069 -112.349505 
L 360.843069 -107.886139 
L 343.226403 -101.669307 
L 331.676403 -94.655446 
L 319.893069 -104.69802 
L 302.509736 -99.915842 
L 290.959736 -93.858416 
L 286.526403 -105.49505 
z
" style="stroke: #800000; stroke-opacity: 0.2"/>
    </defs>
    <g clip-path="url(#pa5cbdc67f9)">
     <use href="#mf4e11b6c8f" x="0" y="475.742574" style="fill: #800000; fill-opacity: 0.2; stroke: #800000; stroke-opacity: 0.2"/>
    </g>
   </g>
   <g id="FillBetweenPolyCollection_26">
    <defs>
     <path id="mfdbd0c03f1" d="M 286.526403 -105.49505 
L 286.526403 -105.49505 
L 314.059736 -80.468317 
L 332.026403 -78.555446 
L 349.176403 -82.062376 
L 360.551403 -85.569307 
L 370.001403 -78.236634 
L 390.534736 -69.947525 
L 390.534736 -73.135644 
L 390.534736 -73.135644 
L 370.001403 -81.424752 
L 360.551403 -87.163366 
L 349.176403 -83.656436 
L 332.026403 -80.149505 
L 314.059736 -82.062376 
L 286.526403 -105.49505 
z
" style="stroke: #000000; stroke-opacity: 0.2"/>
    </defs>
    <g clip-path="url(#pa5cbdc67f9)">
     <use href="#mfdbd0c03f1" x="0" y="475.742574" style="fill-opacity: 0.2; stroke: #000000; stroke-opacity: 0.2"/>
    </g>
   </g>
   <g id="matplotlib.axis_7">
    <g id="xtick_21">
     <g id="line2d_86">
      <g>
       <use href="#m1504cfccaf" x="286.526403" y="449.950495" style="stroke: #000000; stroke-width: 0.8"/>
      </g>
     </g>
     <g id="text_71">
      <text style="font-size: 8px; font-family: 'DejaVu Sans', 'Liberation Sans', sans-serif; text-anchor: middle" x="286.526403" y="463.029245" transform="rotate(-0 286.526403 463.029245)">0</text>
     </g>
    </g>
    <g id="xtick_22">
     <g id="line2d_87">
      <g>
       <use href="#m1504cfccaf" x="315.693069" y="449.950495" style="stroke: #000000; stroke-width: 0.8"/>
      </g>
     </g>
     <g id="text_72">
      <text style="font-size: 8px; font-family: 'DejaVu Sans', 'Liberation Sans', sans-serif; text-anchor: middle" x="315.693069" y="463.029245" transform="rotate(-0 315.693069 463.029245)">5</text>
     </g>
    </g>
    <g id="xtick_23">
     <g id="line2d_88">
      <g>
       <use href="#m1504cfccaf" x="344.859736" y="449.950495" style="stroke: #000000; stroke-width: 0.8"/>
      </g>
     </g>
     <g id="text_73">
      <text style="font-size: 8px; font-family: 'DejaVu Sans', 'Liberation Sans', sans-serif; text-anchor: middle" x="344.859736" y="463.029245" transform="rotate(-0 344.859736 463.029245)">10</text>
     </g>
    </g>
    <g id="xtick_24">
     <g id="line2d_89">
      <g>
       <use href="#m1504cfccaf" x="374.026403" y="449.950495" style="stroke: #000000; stroke-width: 0.8"/>
      </g>
     </g>
     <g id="text_74">
      <text style="font-size: 8px; font-family: 'DejaVu Sans', 'Liberation Sans', sans-serif; text-anchor: middle" x="374.026403" y="463.029245" transform="rotate(-0 374.026403 463.029245)">15</text>
     </g>
    </g>
    <g id="xtick_25">
     <g id="line2d_90">
      <g>
       <use href="#m1504cfccaf" x="403.193069" y="449.950495" style="stroke: #000000; stroke-width: 0.8"/>
      </g>
     </g>
     <g id="text_75">
      <text style="font-size: 8px; font-family: 'DejaVu Sans', 'Liberation Sans', sans-serif; text-anchor: middle" x="403.193069" y="463.029245" transform="rotate(-0 403.193069 463.029245)">20</text>
     </g>
    </g>
    <g id="xtick_26">
     <g id="line2d_91">
      <g>
       <use href="#m1504cfccaf" x="432.359736" y="449.950495" style="stroke: #000000; stroke-width: 0.8"/>
      </g>
     </g>
     <g id="text_76">
      <text style="font-size: 8px; font-family: 'DejaVu Sans', 'Liberation Sans', sans-serif; text-anchor: middle" x="432.359736" y="463.029245" transform="rotate(-0 432.359736 463.029245)">25</text>
     </g>
    </g>
    <g id="xtick_27">
     <g id="line2d_92">
      <g>
       <use href="#m1504cfccaf" x="461.526403" y="449.950495" style="stroke: #000000; stroke-width: 0.8"/>
      </g>
     </g>
     <g id="text_77">
      <text style="font-size: 8px; font-family: 'DejaVu Sans', 'Liberation Sans', sans-serif; text-anchor: middle" x="461.526403" y="463.029245" transform="rotate(-0 461.526403 463.029245)">30</text>
     </g>
    </g>
    <g id="xtick_28">
     <g id="line2d_93">
      <g>
       <use href="#m1504cfccaf" x="490.693069" y="449.950495" style="stroke: #000000; stroke-width: 0.8"/>
      </g>
     </g>
     <g id="text_78">
      <text style="font-size: 8px; font-family: 'DejaVu Sans', 'Liberation Sans', sans-serif; text-anchor: middle" x="490.693069" y="463.029245" transform="rotate(-0 490.693069 463.029245)">35</text>
     </g>
    </g>
    <g id="text_79">
     <text style="font-size: 8px; font-family: 'DejaVu Sans', 'Liberation Sans', sans-serif; text-anchor: middle" x="385.693069" y="474.771745" transform="rotate(-0 385.693069 474.771745)">Time [d]</text>
    </g>
   </g>
   <g id="matplotlib.axis_8">
    <g id="ytick_24">
     <g id="line2d_94">
      <g>
       <use href="#m5d545ce8f8" x="280.693069" y="449.950495" style="stroke: #000000; stroke-width: 0.8"/>
      </g>
     </g>
     <g id="text_80">
      <text style="font-size: 8px; font-family: 'DejaVu Sans', 'Liberation Sans', sans-serif; text-anchor: end" x="273.693069" y="452.98987" transform="rotate(-0 273.693069 452.98987)">0.0</text>
     </g>
    </g>
    <g id="ytick_25">
     <g id="line2d_95">
      <g>
       <use href="#m5d545ce8f8" x="280.693069" y="418.069307" style="stroke: #000000; stroke-width: 0.8"/>
      </g>
     </g>
     <g id="text_81">
      <text style="font-size: 8px; font-family: 'DejaVu Sans', 'Liberation Sans', sans-serif; text-anchor: end" x="273.693069" y="421.108682" transform="rotate(-0 273.693069 421.108682)">0.2</text>
     </g>
    </g>
    <g id="ytick_26">
     <g id="line2d_96">
      <g>
       <use href="#m5d545ce8f8" x="280.693069" y="386.188119" style="stroke: #000000; stroke-width: 0.8"/>
      </g>
     </g>
     <g id="text_82">
      <text style="font-size: 8px; font-family: 'DejaVu Sans', 'Liberation Sans', sans-serif; text-anchor: end" x="273.693069" y="389.227494" transform="rotate(-0 273.693069 389.227494)">0.4</text>
     </g>
    </g>
    <g id="ytick_27">
     <g id="line2d_97">
      <g>
       <use href="#m5d545ce8f8" x="280.693069" y="354.306931" style="stroke: #000000; stroke-width: 0.8"/>
      </g>
     </g>
     <g id="text_83">
      <text style="font-size: 8px; font-family: 'DejaVu Sans', 'Liberation Sans', sans-serif; text-anchor: end" x="273.693069" y="357.346306" transform="rotate(-0 273.693069 357.346306)">0.6</text>
     </g>
    </g>
    <g id="ytick_28">
     <g id="line2d_98">
      <g>
       <use href="#m5d545ce8f8" x="280.693069" y="322.425743" style="stroke: #000000; stroke-width: 0.8"/>
      </g>
     </g>
     <g id="text_84">
      <text style="font-size: 8px; font-family: 'DejaVu Sans', 'Liberation Sans', sans-serif; text-anchor: end" x="273.693069" y="325.465118" transform="rotate(-0 273.693069 325.465118)">0.8</text>
     </g>
    </g>
    <g id="ytick_29">
     <g id="line2d_99">
      <g>
       <use href="#m5d545ce8f8" x="280.693069" y="290.544554" style="stroke: #000000; stroke-width: 0.8"/>
      </g>
     </g>
     <g id="text_85">
      <text style="font-size: 8px; font-family: 'DejaVu Sans', 'Liberation Sans', sans-serif; text-anchor: end" x="273.693069" y="293.583929" transform="rotate(-0 273.693069 293.583929)">1.0</text>
     </g>
    </g>
    <g id="ytick_30">
     <g id="line2d_100">
      <g>
       <use href="#m5d545ce8f8" x="280.693069" y="258.663366" style="stroke: #000000; stroke-width: 0.8"/>
      </g>
     </g>
     <g id="text_86">
      <text style="font-size: 8px; font-family: 'DejaVu Sans', 'Liberation Sans', sans-serif; text-anchor: end" x="273.693069" y="261.702741" transform="rotate(-0 273.693069 261.702741)">1.2</text>
     </g>
    </g>
    <g id="text_87">
     <text style="font-size: 8px; font-family: 'DejaVu Sans', 'Liberation Sans', sans-serif; text-anchor: middle" x="255.306819" y="354.306931" transform="rotate(-90 255.306819 354.306931)">normalized OD</text>
    </g>
   </g>
   <g id="line2d_101">
    <path d="M 286.526403 370.247525 
L 290.959736 419.344554 
L 302.509736 407.070297 
L 319.893069 411.693069 
L 331.676403 416.156436 
L 343.226403 404.041584 
L 360.551403 401.012871 
L 370.351403 395.274257 
L 383.943069 391.607921 
L 401.618069 366.9 
L 413.284736 364.030693 
L 424.951403 360.842574 
L 442.684736 364.030693 
L 454.001403 358.132673 
L 465.726403 345.69901 
" clip-path="url(#pa5cbdc67f9)" style="fill: none; stroke: #00fa9a; stroke-width: 2; stroke-linecap: square"/>
    <g clip-path="url(#pa5cbdc67f9)">
     <use href="#m0bceedb170" x="286.526403" y="370.247525" style="fill: #00fa9a; stroke: #00fa9a; stroke-linejoin: miter"/>
     <use href="#m0bceedb170" x="290.959736" y="419.344554" style="fill: #00fa9a; stroke: #00fa9a; stroke-linejoin: miter"/>
     <use href="#m0bceedb170" x="302.509736" y="407.070297" style="fill: #00fa9a; stroke: #00fa9a; stroke-linejoin: miter"/>
     <use href="#m0bceedb170" x="319.893069" y="411.693069" style="fill: #00fa9a; stroke: #00fa9a; stroke-linejoin: miter"/>
     <use href="#m0bceedb170" x="331.676403" y="416.156436" style="fill: #00fa9a; stroke: #00fa9a; stroke-linejoin: miter"/>
     <use href="#m0bceedb170" x="343.226403" y="404.041584" style="fill: #00fa9a; stroke: #00fa9a; stroke-linejoin: miter"/>
     <use href="#m0bceedb170" x="360.551403" y="401.012871" style="fill: #00fa9a; stroke: #00fa9a; stroke-linejoin: miter"/>
     <use href="#m0bceedb170" x="370.351403" y="395.274257" style="fill: #00fa9a; stroke: #00fa9a; stroke-linejoin: miter"/>
     <use href="#m0bceedb170" x="383.943069" y="391.607921" style="fill: #00fa9a; stroke: #00fa9a; stroke-linejoin: miter"/>
     <use href="#m0bceedb170" x="401.618069" y="366.9" style="fill: #00fa9a; stroke: #00fa9a; stroke-linejoin: miter"/>
     <use href="#m0bceedb170" x="413.284736" y="364.030693" style="fill: #00fa9a; stroke: #00fa9a; stroke-linejoin: miter"/>
     <use href="#m0bceedb170" x="424.951403" y="360.842574" style="fill: #00fa9a; stroke: #00fa9a; stroke-linejoin: miter"/>
     <use href="#m0bceedb170" x="442.684736" y="364.030693" style="fill: #00fa9a; stroke: #00fa9a; stroke-linejoin: miter"/>
     <use href="#m0bceedb170" x="454.001403" y="358.132673" style="fill: #00fa9a; stroke: #00fa9a; stroke-linejoin: miter"/>
     <use href="#m0bceedb170" x="465.726403" y="345.69901" style="fill: #00fa9a; stroke: #00fa9a; stroke-linejoin: miter"/>
    </g>
   </g>
   <g id="line2d_102">
    <path d="M 286.526403 370.247525 
L 290.959736 395.911881 
L 302.509736 389.216832 
L 319.893069 389.854455 
L 331.676403 391.289109 
L 343.226403 371.363366 
L 360.551403 365.943564 
L 372.218069 367.856436 
L 384.234736 346.017822 
L 401.618069 331.511881 
L 413.284736 330.555446 
L 424.951403 329.59901 
L 442.684736 330.874257 
L 454.001403 330.236634 
L 465.726403 331.193069 
" clip-path="url(#pa5cbdc67f9)" style="fill: none; stroke: #4682b4; stroke-width: 2; stroke-linecap: square"/>
    <g clip-path="url(#pa5cbdc67f9)">
     <use href="#m28daec182a" x="286.526403" y="370.247525" style="fill: #4682b4; stroke: #4682b4; stroke-linejoin: miter"/>
     <use href="#m28daec182a" x="290.959736" y="395.911881" style="fill: #4682b4; stroke: #4682b4; stroke-linejoin: miter"/>
     <use href="#m28daec182a" x="302.509736" y="389.216832" style="fill: #4682b4; stroke: #4682b4; stroke-linejoin: miter"/>
     <use href="#m28daec182a" x="319.893069" y="389.854455" style="fill: #4682b4; stroke: #4682b4; stroke-linejoin: miter"/>
     <use href="#m28daec182a" x="331.676403" y="391.289109" style="fill: #4682b4; stroke: #4682b4; stroke-linejoin: miter"/>
     <use href="#m28daec182a" x="343.226403" y="371.363366" style="fill: #4682b4; stroke: #4682b4; stroke-linejoin: miter"/>
     <use href="#m28daec182a" x="360.551403" y="365.943564" style="fill: #4682b4; stroke: #4682b4; stroke-linejoin: miter"/>
     <use href="#m28daec182a" x="372.218069" y="367.856436" style="fill: #4682b4; stroke: #4682b4; stroke-linejoin: miter"/>
     <use href="#m28daec182a" x="384.234736" y="346.017822" style="fill: #4682b4; stroke: #4682b4; stroke-linejoin: miter"/>
     <use href="#m28daec182a" x="401.618069" y="331.511881" style="fill: #4682b4; stroke: #4682b4; stroke-linejoin: miter"/>
     <use href="#m28daec182a" x="413.284736" y="330.555446" style="fill: #4682b4; stroke: #4682b4; stroke-linejoin: miter"/>
     <use href="#m28daec182a" x="424.951403" y="329.59901" style="fill: #4682b4; stroke: #4682b4; stroke-linejoin: miter"/>
     <use href="#m28daec182a" x="442.684736" y="330.874257" style="fill: #4682b4; stroke: #4682b4; stroke-linejoin: miter"/>
     <use href="#m28daec182a" x="454.001403" y="330.236634" style="fill: #4682b4; stroke: #4682b4; stroke-linejoin: miter"/>
     <use href="#m28daec182a" x="465.726403" y="331.193069" style="fill: #4682b4; stroke: #4682b4; stroke-linejoin: miter"/>
    </g>
   </g>
   <g id="line2d_103">
    <path d="M 286.526403 370.247525 
L 290.959736 390.492079 
L 302.509736 370.247525 
L 319.893069 373.435644 
L 331.676403 385.869307 
L 343.226403 389.376238 
L 360.551403 392.564356 
L 372.218069 376.783168 
L 384.234736 344.90198 
L 401.618069 341.39505 
L 413.284736 341.39505 
L 424.951403 335.018812 
L 442.684736 325.29505 
L 454.001403 322.106931 
L 465.726403 318.918812 
" clip-path="url(#pa5cbdc67f9)" style="fill: none; stroke: #cd853f; stroke-width: 2; stroke-linecap: square"/>
    <g clip-path="url(#pa5cbdc67f9)">
     <use href="#m0729c1143e" x="286.526403" y="370.247525" style="fill: #cd853f; stroke: #cd853f; stroke-linejoin: miter"/>
     <use href="#m0729c1143e" x="290.959736" y="390.492079" style="fill: #cd853f; stroke: #cd853f; stroke-linejoin: miter"/>
     <use href="#m0729c1143e" x="302.509736" y="370.247525" style="fill: #cd853f; stroke: #cd853f; stroke-linejoin: miter"/>
     <use href="#m0729c1143e" x="319.893069" y="373.435644" style="fill: #cd853f; stroke: #cd853f; stroke-linejoin: miter"/>
     <use href="#m0729c1143e" x="331.676403" y="385.869307" style="fill: #cd853f; stroke: #cd853f; stroke-linejoin: miter"/>
     <use href="#m0729c1143e" x="343.226403" y="389.376238" style="fill: #cd853f; stroke: #cd853f; stroke-linejoin: miter"/>
     <use href="#m0729c1143e" x="360.551403" y="392.564356" style="fill: #cd853f; stroke: #cd853f; stroke-linejoin: miter"/>
     <use href="#m0729c1143e" x="372.218069" y="376.783168" style="fill: #cd853f; stroke: #cd853f; stroke-linejoin: miter"/>
     <use href="#m0729c1143e" x="384.234736" y="344.90198" style="fill: #cd853f; stroke: #cd853f; stroke-linejoin: miter"/>
     <use href="#m0729c1143e" x="401.618069" y="341.39505" style="fill: #cd853f; stroke: #cd853f; stroke-linejoin: miter"/>
     <use href="#m0729c1143e" x="413.284736" y="341.39505" style="fill: #cd853f; stroke: #cd853f; stroke-linejoin: miter"/>
     <use href="#m0729c1143e" x="424.951403" y="335.018812" style="fill: #cd853f; stroke: #cd853f; stroke-linejoin: miter"/>
     <use href="#m0729c1143e" x="442.684736" y="325.29505" style="fill: #cd853f; stroke: #cd853f; stroke-linejoin: miter"/>
     <use href="#m0729c1143e" x="454.001403" y="322.106931" style="fill: #cd853f; stroke: #cd853f; stroke-linejoin: miter"/>
     <use href="#m0729c1143e" x="465.726403" y="318.918812" style="fill: #cd853f; stroke: #cd853f; stroke-linejoin: miter"/>
    </g>
   </g>
   <g id="line2d_104">
    <path d="M 286.526403 370.247525 
L 290.959736 385.072277 
L 302.509736 379.014851 
L 319.893069 375.826733 
L 331.676403 384.275248 
L 343.226403 377.261386 
L 360.843069 371.044554 
L 372.218069 366.581188 
L 383.943069 358.770297 
L 401.618069 349.205941 
L 413.284736 348.249505 
L 424.951403 344.90198 
L 442.684736 335.975248 
L 454.001403 335.337624 
L 465.726403 328.642574 
" clip-path="url(#pa5cbdc67f9)" style="fill: none; stroke: #800000; stroke-width: 2; stroke-linecap: square"/>
    <g clip-path="url(#pa5cbdc67f9)">
     <use href="#m6ad5983ac9" x="286.526403" y="370.247525" style="fill: #800000; stroke: #800000; stroke-linejoin: miter"/>
     <use href="#m6ad5983ac9" x="290.959736" y="385.072277" style="fill: #800000; stroke: #800000; stroke-linejoin: miter"/>
     <use href="#m6ad5983ac9" x="302.509736" y="379.014851" style="fill: #800000; stroke: #800000; stroke-linejoin: miter"/>
     <use href="#m6ad5983ac9" x="319.893069" y="375.826733" style="fill: #800000; stroke: #800000; stroke-linejoin: miter"/>
     <use href="#m6ad5983ac9" x="331.676403" y="384.275248" style="fill: #800000; stroke: #800000; stroke-linejoin: miter"/>
     <use href="#m6ad5983ac9" x="343.226403" y="377.261386" style="fill: #800000; stroke: #800000; stroke-linejoin: miter"/>
     <use href="#m6ad5983ac9" x="360.843069" y="371.044554" style="fill: #800000; stroke: #800000; stroke-linejoin: miter"/>
     <use href="#m6ad5983ac9" x="372.218069" y="366.581188" style="fill: #800000; stroke: #800000; stroke-linejoin: miter"/>
     <use href="#m6ad5983ac9" x="383.943069" y="358.770297" style="fill: #800000; stroke: #800000; stroke-linejoin: miter"/>
     <use href="#m6ad5983ac9" x="401.618069" y="349.205941" style="fill: #800000; stroke: #800000; stroke-linejoin: miter"/>
     <use href="#m6ad5983ac9" x="413.284736" y="348.249505" style="fill: #800000; stroke: #800000; stroke-linejoin: miter"/>
     <use href="#m6ad5983ac9" x="424.951403" y="344.90198" style="fill: #800000; stroke: #800000; stroke-linejoin: miter"/>
     <use href="#m6ad5983ac9" x="442.684736" y="335.975248" style="fill: #800000; stroke: #800000; stroke-linejoin: miter"/>
     <use href="#m6ad5983ac9" x="454.001403" y="335.337624" style="fill: #800000; stroke: #800000; stroke-linejoin: miter"/>
     <use href="#m6ad5983ac9" x="465.726403" y="328.642574" style="fill: #800000; stroke: #800000; stroke-linejoin: miter"/>
    </g>
   </g>
   <g id="line2d_105">
    <path d="M 286.526403 370.247525 
L 314.059736 394.477228 
L 332.026403 396.390099 
L 349.176403 392.883168 
L 360.551403 389.376238 
L 370.001403 395.911881 
L 390.534736 404.20099 
" clip-path="url(#pa5cbdc67f9)" style="fill: none; stroke: #000000; stroke-width: 2; stroke-linecap: square"/>
    <g clip-path="url(#pa5cbdc67f9)">
     <use href="#m90956b48b6" x="286.526403" y="370.247525" style="stroke: #000000; stroke-linejoin: miter"/>
     <use href="#m90956b48b6" x="314.059736" y="394.477228" style="stroke: #000000; stroke-linejoin: miter"/>
     <use href="#m90956b48b6" x="332.026403" y="396.390099" style="stroke: #000000; stroke-linejoin: miter"/>
     <use href="#m90956b48b6" x="349.176403" y="392.883168" style="stroke: #000000; stroke-linejoin: miter"/>
     <use href="#m90956b48b6" x="360.551403" y="389.376238" style="stroke: #000000; stroke-linejoin: miter"/>
     <use href="#m90956b48b6" x="370.001403" y="395.911881" style="stroke: #000000; stroke-linejoin: miter"/>
     <use href="#m90956b48b6" x="390.534736" y="404.20099" style="stroke: #000000; stroke-linejoin: miter"/>
    </g>
   </g>
   <g id="patch_18">
    <path d="M 280.693069 449.950495 
L 280.693069 258.663366 
" style="fill: none; stroke: #000000; stroke-width: 0.8; stroke-linejoin: miter; stroke-linecap: square"/>
   </g>
   <g id="patch_19">
    <path d="M 490.693069 449.950495 
L 490.693069 258.663366 
" style="fill: none; stroke: #000000; stroke-width: 0.8; stroke-linejoin: miter; stroke-linecap: square"/>
   </g>
   <g id="patch_20">
    <path d="M 280.693069 449.950495 
L 490.693069 449.950495 
" style="fill: none; stroke: #000000; stroke-width: 0.8; stroke-linejoin: miter; stroke-linecap: square"/>
   </g>
   <g id="patch_21">
    <path d="M 280.693069 258.663366 
L 490.693069 258.663366 
" style="fill: none; stroke: #000000; stroke-width: 0.8; stroke-linejoin: miter; stroke-linecap: square"/>
   </g>
   <g id="legend_4">
    <g id="line2d_106">
     <g>
      <use href="#m0bceedb170" x="287.593069" y="270.505679" style="fill: #00fa9a; stroke: #00fa9a; stroke-linejoin: miter"/>
     </g>
    </g>
    <g id="text_88">
     <text style="font-size: 6px; font-family: 'DejaVu Sans', 'Liberation Sans', sans-serif" transform="translate(293.893069 268.622429)">Shm1KO</text>
     <text style="font-size: 6px; font-family: 'DejaVu Sans', 'Liberation Sans', sans-serif" transform="translate(293.893069 275.341116)">FA+5%CO2 25°C</text>
    </g>
    <g id="line2d_107">
     <g>
      <use href="#m28daec182a" x="287.593069" y="286.001241" style="fill: #4682b4; stroke: #4682b4; stroke-linejoin: miter"/>
     </g>
    </g>
    <g id="text_89">
     <text style="font-size: 6px; font-family: 'DejaVu Sans', 'Liberation Sans', sans-serif" transform="translate(293.893069 284.117991)">Shm1KO MeMisOE</text>
     <text style="font-size: 6px; font-family: 'DejaVu Sans', 'Liberation Sans', sans-serif" transform="translate(293.893069 290.836679)">FA+5%CO2 25°C</text>
    </g>
    <g id="line2d_108">
     <g>
      <use href="#m0729c1143e" x="287.593069" y="301.496804" style="fill: #cd853f; stroke: #cd853f; stroke-linejoin: miter"/>
     </g>
    </g>
    <g id="text_90">
     <text style="font-size: 6px; font-family: 'DejaVu Sans', 'Liberation Sans', sans-serif" transform="translate(293.893069 299.613554)">Shm1KO</text>
     <text style="font-size: 6px; font-family: 'DejaVu Sans', 'Liberation Sans', sans-serif" transform="translate(293.893069 306.332241)">FA+5%CO2 30°C</text>
    </g>
    <g id="line2d_109">
     <g>
      <use href="#m6ad5983ac9" x="287.593069" y="316.992366" style="fill: #800000; stroke: #800000; stroke-linejoin: miter"/>
     </g>
    </g>
    <g id="text_91">
     <text style="font-size: 6px; font-family: 'DejaVu Sans', 'Liberation Sans', sans-serif" transform="translate(293.893069 315.109116)">Shm1KO MeMisOE</text>
     <text style="font-size: 6px; font-family: 'DejaVu Sans', 'Liberation Sans', sans-serif" transform="translate(293.893069 321.827804)">FA+5%CO2 30°C</text>
    </g>
    <g id="line2d_110">
     <g>
      <use href="#m90956b48b6" x="287.593069" y="328.504679" style="stroke: #000000; stroke-linejoin: miter"/>
     </g>
    </g>
    <g id="text_92">
     <text style="font-size: 6px; font-family: 'DejaVu Sans', 'Liberation Sans', sans-serif; text-anchor: start" x="293.893069" y="330.604679" transform="rotate(-0 293.893069 330.604679)">DasKO FA+10%CO2</text>
    </g>
   </g>
  </g>
  <g id="text_93">
   <text style="font-size: 8px; font-family: 'DejaVu Sans', 'Liberation Sans', sans-serif; text-anchor: start" x="5.49505" y="6.089109" transform="rotate(-0 5.49505 6.089109)">a)</text>
  </g>
  <g id="text_94">
   <text style="font-size: 8px; font-family: 'DejaVu Sans', 'Liberation Sans', sans-serif; text-anchor: start" x="261.584158" y="6.089109" transform="rotate(-0 261.584158 6.089109)">b)</text>
  </g>
  <g id="text_95">
   <text style="font-size: 8px; font-family: 'DejaVu Sans', 'Liberation Sans', sans-serif; text-anchor: start" x="13.613861" y="247.277228" transform="rotate(-0 13.613861 247.277228)">c)</text>
  </g>
  <g id="text_96">
   <text style="font-size: 8px; font-family: 'DejaVu Sans', 'Liberation Sans', sans-serif; text-anchor: start" x="263.118812" y="247.277228" transform="rotate(-0 263.118812 247.277228)">d)</text>
  </g>
 </g>
 <defs>
  <clipPath id="pe336038c36">
   <rect x="31.311881" y="17.524752" width="209.950495" height="191.262376"/>
  </clipPath>
  <clipPath id="p91ebfa5d52">
   <rect x="280.742574" y="17.524752" width="209.950495" height="191.262376"/>
  </clipPath>
  <clipPath id="ped3c1360fa">
   <rect x="31.311881" y="258.663366" width="209.975248" height="191.287129"/>
  </clipPath>
  <clipPath id="pa5cbdc67f9">
   <rect x="280.693069" y="258.663366" width="210" height="191.287129"/>
  </clipPath>
 </defs>
</svg>

</body></html>
